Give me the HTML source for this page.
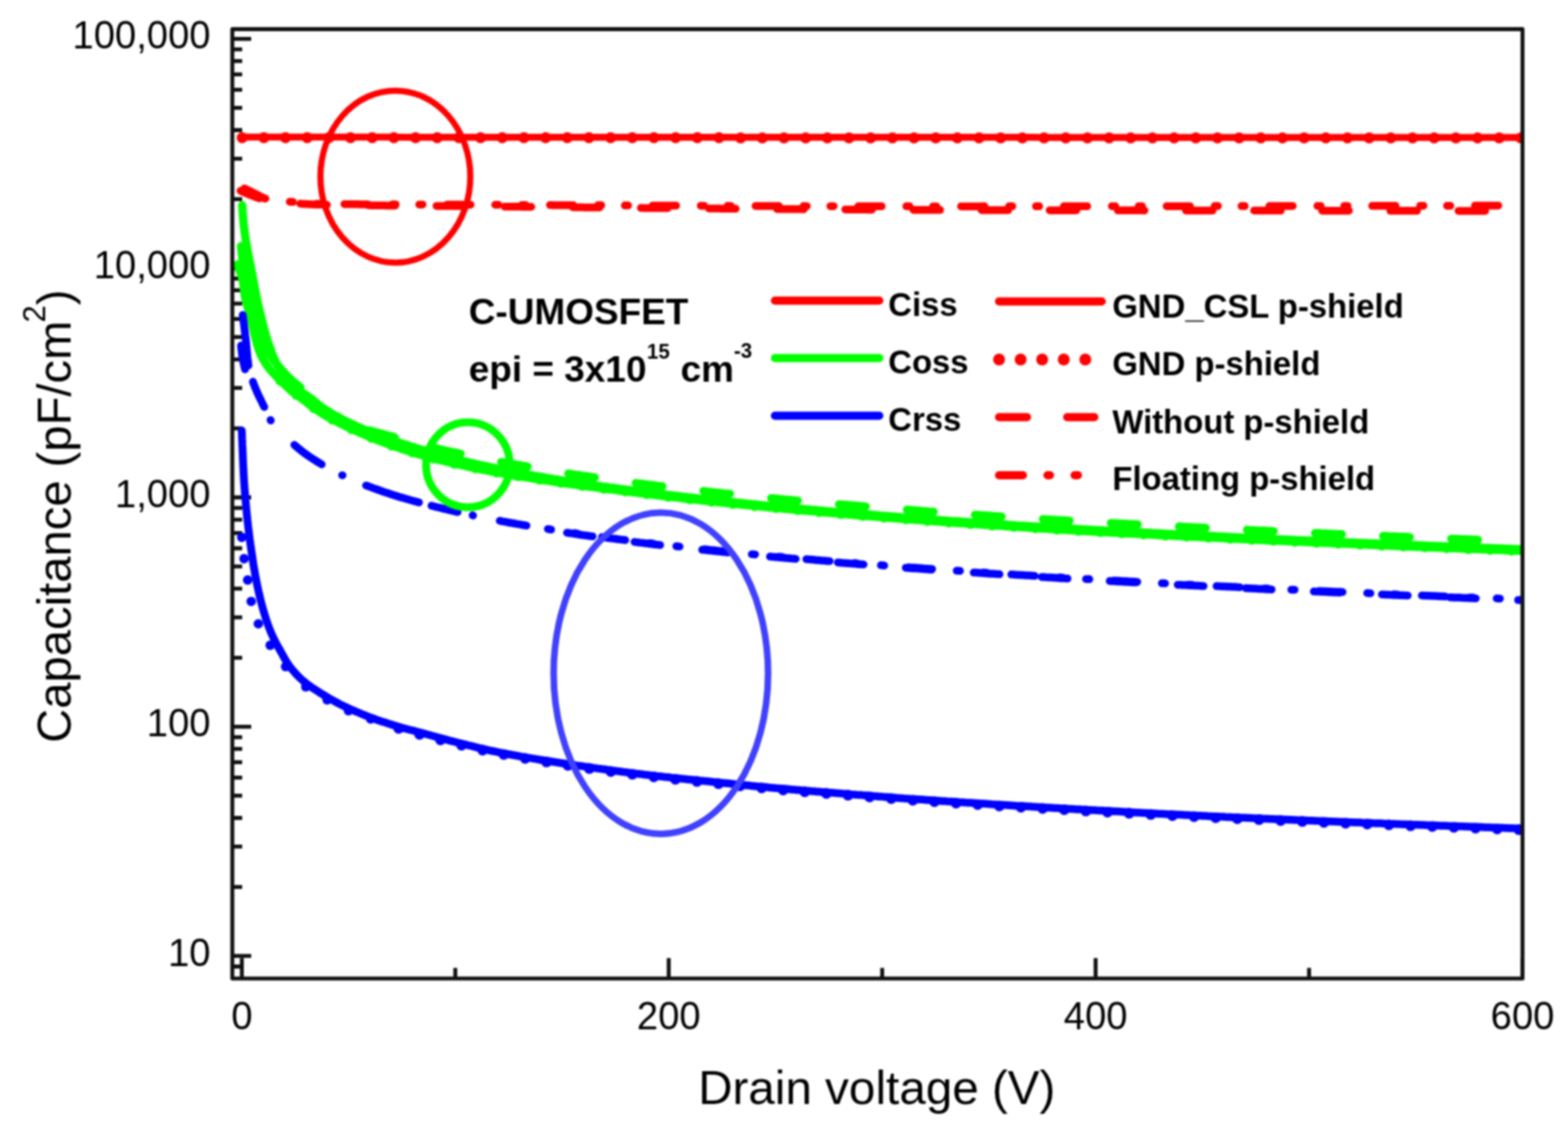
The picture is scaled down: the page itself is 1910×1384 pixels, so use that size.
<!DOCTYPE html>
<html><head><meta charset="utf-8"><title>Capacitance vs Drain voltage</title>
<style>
html,body{margin:0;padding:0;background:#fff;}
svg{display:block;}
text{font-family:"Liberation Sans",Arial,sans-serif;fill:#000;}
.tl{font-size:49px;}
.lg{font-size:40px;font-weight:bold;}
.an{font-size:45px;font-weight:bold;}
.ti{font-size:58px;}
</style></head>
<body>
<svg width="1910" height="1384" viewBox="0 0 1910 1384">
<defs><filter id="soft" color-interpolation-filters="sRGB" filterUnits="userSpaceOnUse" x="0" y="0" width="1910" height="1384"><feGaussianBlur stdDeviation="0.8"/></filter></defs>
<g filter="url(#soft)">
<rect width="1910" height="1384" fill="#fff"/>
<g id="axes">
<path d="M283,1177.5h12M283,1164.7h23M283,1080.6h12M283,1031.4h12M283,996.5h12M283,969.4h12M283,947.3h12M283,928.6h12M283,912.4h12M283,898.1h12M283,885.4h23M283,801.3h12M283,752.1h12M283,717.2h12M283,690.1h12M283,668h12M283,649.3h12M283,633.1h12M283,618.8h12M283,606h23M283,521.9h12M283,472.7h12M283,437.8h12M283,410.7h12M283,388.6h12M283,369.9h12M283,353.7h12M283,339.4h12M283,326.7h23M283,242.6h12M283,193.4h12M283,158.5h12M283,131.4h12M283,109.3h12M283,90.6h12M283,74.4h12M283,60.1h12M283,47.3h23M294.6,1192.2v-25M554.6,1192.2v-13M814.6,1192.2v-25M1074.6,1192.2v-13M1334.6,1192.2v-25M1594.6,1192.2v-13M1854.6,1192.2v-25" stroke="#111" stroke-width="4.8" fill="none"/>
</g>
<clipPath id="plotclip"><rect x="283" y="35.5" width="1571.6" height="1156.7"/></clipPath>
<g id="curves" clip-path="url(#plotclip)">
<path d="M294.6,167.1L314.6,167.1L334.6,167.1L354.6,167.1L374.6,167.1L394.6,167.1L414.6,167.1L434.6,167.1L454.6,167.1L474.6,167.1L494.6,167.2L514.6,167.2L534.6,167.2L554.6,167.2L574.6,167.2L594.6,167.2L614.6,167.2L634.6,167.2L654.6,167.2L674.6,167.2L694.6,167.2L714.6,167.2L734.6,167.2L754.6,167.2L774.6,167.2L794.6,167.2L814.6,167.2L834.6,167.2L854.6,167.2L874.6,167.2L894.6,167.3L914.6,167.3L934.6,167.3L954.6,167.3L974.6,167.3L994.6,167.3L1014.6,167.3L1034.6,167.3L1054.6,167.3L1074.6,167.3L1094.6,167.3L1114.6,167.3L1134.6,167.3L1154.6,167.3L1174.6,167.3L1194.6,167.3L1214.6,167.3L1234.6,167.3L1254.6,167.3L1274.6,167.4L1294.6,167.4L1314.6,167.4L1334.6,167.4L1354.6,167.4L1374.6,167.4L1394.6,167.4L1414.6,167.4L1434.6,167.4L1454.6,167.4L1474.6,167.4L1494.6,167.4L1514.6,167.4L1534.6,167.4L1554.6,167.4L1574.6,167.4L1594.6,167.4L1614.6,167.4L1634.6,167.4L1654.6,167.4L1674.6,167.5L1694.6,167.5L1714.6,167.5L1734.6,167.5L1754.6,167.5L1774.6,167.5L1794.6,167.5L1814.6,167.5L1834.6,167.5L1854.6,167.5" stroke="#ff0000" stroke-width="8.5" fill="none" stroke-linecap="round" stroke-linejoin="round"/>
<path d="M294.6,167.7L314.6,167.7L334.6,167.7L354.6,167.7L374.6,167.7L394.6,167.7L414.6,167.7L434.6,167.7L454.6,167.7L474.6,167.7L494.6,167.8L514.6,167.8L534.6,167.8L554.6,167.8L574.6,167.8L594.6,167.8L614.6,167.8L634.6,167.8L654.6,167.8L674.6,167.8L694.6,167.8L714.6,167.8L734.6,167.8L754.6,167.8L774.6,167.8L794.6,167.8L814.6,167.8L834.6,167.8L854.6,167.8L874.6,167.8L894.6,167.9L914.6,167.9L934.6,167.9L954.6,167.9L974.6,167.9L994.6,167.9L1014.6,167.9L1034.6,167.9L1054.6,167.9L1074.6,167.9L1094.6,167.9L1114.6,167.9L1134.6,167.9L1154.6,167.9L1174.6,167.9L1194.6,167.9L1214.6,167.9L1234.6,167.9L1254.6,167.9L1274.6,168L1294.6,168L1314.6,168L1334.6,168L1354.6,168L1374.6,168L1394.6,168L1414.6,168L1434.6,168L1454.6,168L1474.6,168L1494.6,168L1514.6,168L1534.6,168L1554.6,168L1574.6,168L1594.6,168L1614.6,168L1634.6,168L1654.6,168L1674.6,168.1L1694.6,168.1L1714.6,168.1L1734.6,168.1L1754.6,168.1L1774.6,168.1L1794.6,168.1L1814.6,168.1L1834.6,168.1L1854.6,168.1" stroke="#ff0000" stroke-width="13.5" fill="none" stroke-linecap="round" stroke-linejoin="round" stroke-dasharray="0 26.4" stroke-dashoffset="26"/>
<path d="M293,232.5L294.8,233.3L297.4,234.4L300.4,235.7L303.7,237.1L307,238.4L310,239.5L313.2,240.7L316.2,241.8L319.3,242.8L322.8,243.7L327,244.5L329.6,244.9L332.3,245.2L335.2,245.5L338.2,245.8L341.4,246L344.8,246.3L348.3,246.5L352.1,246.7L356,247L358.3,247.2L360.1,247.4L361.6,247.5L362.9,247.7L364.2,247.9L365.6,248.1L367.3,248.3L369.4,248.5L372.2,248.6L375.6,248.8L380,249L385.4,249.2L392,249.3L400,249.5L401.9,249.5L403.8,249.6L405.9,249.6L407.9,249.6L410.1,249.7L412.3,249.7L414.6,249.7L416.9,249.8L419.3,249.8L421.8,249.8L424.3,249.9L426.9,249.9L429.5,249.9L432.2,250L434.9,250L437.6,250L440.4,250.1L443.3,250.1L446.2,250.1L449.1,250.1L452.1,250.2L455.1,250.2L458.2,250.2L461.2,250.3L464.4,250.3L467.5,250.3L470.7,250.4L473.9,250.4L477.1,250.4L480.4,250.4L483.6,250.5L486.9,250.5L490.2,250.5L493.6,250.6L496.9,250.6L500.3,250.6L503.7,250.6L507.1,250.7L510.5,250.7L513.9,250.7L517.3,250.8L520.7,250.8L524.1,250.8L527.6,250.9L531,250.9L534.4,250.9L537.8,250.9L541.2,251L544.6,251L548,251L551.4,251.1L554.8,251.1L558.2,251.1L561.5,251.1L564.9,251.2L568.2,251.2L571.5,251.2L574.8,251.3L578,251.3L581.2,251.3L584.4,251.3L587.6,251.4L590.8,251.4L593.9,251.4L597,251.5L600,251.5L603,251.5L606.1,251.6L609.1,251.6L612.1,251.6L615.2,251.7L618.2,251.7L621.2,251.7L624.2,251.7L627.3,251.8L630.3,251.8L633.3,251.8L636.4,251.9L639.4,251.9L642.4,251.9L645.5,252L648.5,252L651.5,252L654.5,252.1L657.6,252.1L660.6,252.1L663.6,252.2L666.7,252.2L669.7,252.2L672.7,252.2L675.8,252.3L678.8,252.3L681.8,252.3L684.8,252.4L687.9,252.4L690.9,252.4L693.9,252.5L697,252.5L700,252.5L703,252.6L706.1,252.6L709.1,252.6L712.1,252.7L715.2,252.7L718.2,252.7L721.2,252.7L724.2,252.8L727.3,252.8L730.3,252.8L733.3,252.9L736.4,252.9L739.4,252.9L742.4,253L745.5,253L748.5,253L751.5,253L754.5,253.1L757.6,253.1L760.6,253.1L763.6,253.2L766.7,253.2L769.7,253.2L772.7,253.3L775.8,253.3L778.8,253.3L781.8,253.3L784.8,253.4L787.9,253.4L790.9,253.4L793.9,253.4L797,253.5L800,253.5L803,253.5L806.1,253.6L809.1,253.6L812.1,253.6L815.2,253.6L818.2,253.7L821.2,253.7L824.2,253.7L827.3,253.7L830.3,253.8L833.3,253.8L836.4,253.8L839.4,253.8L842.4,253.9L845.5,253.9L848.5,253.9L851.5,253.9L854.5,254L857.6,254L860.6,254L863.6,254L866.7,254.1L869.7,254.1L872.7,254.1L875.8,254.1L878.8,254.2L881.8,254.2L884.8,254.2L887.9,254.2L890.9,254.2L893.9,254.3L897,254.3L900,254.3L903,254.3L906.1,254.4L909.1,254.4L912.1,254.4L915.2,254.4L918.2,254.4L921.2,254.5L924.2,254.5L927.3,254.5L930.3,254.5L933.3,254.6L936.4,254.6L939.4,254.6L942.4,254.6L945.5,254.6L948.5,254.7L951.5,254.7L954.5,254.7L957.6,254.7L960.6,254.7L963.6,254.8L966.7,254.8L969.7,254.8L972.7,254.8L975.8,254.8L978.8,254.9L981.8,254.9L984.8,254.9L987.9,254.9L990.9,254.9L993.9,255L997,255L1000,255L1003,255L1006,255L1009,255.1L1011.9,255.1L1014.9,255.1L1017.8,255.1L1020.7,255.1L1023.6,255.1L1026.5,255.2L1029.3,255.2L1032.2,255.2L1035,255.2L1037.8,255.2L1040.7,255.3L1043.5,255.3L1046.3,255.3L1049.1,255.3L1051.8,255.3L1054.6,255.3L1057.4,255.4L1060.2,255.4L1063,255.4L1065.7,255.4L1068.5,255.4L1071.3,255.4L1074.1,255.5L1076.9,255.5L1079.7,255.5L1082.5,255.5L1085.3,255.5L1088.1,255.5L1090.9,255.5L1093.8,255.6L1096.6,255.6L1099.5,255.6L1102.3,255.6L1105.2,255.6L1108.1,255.6L1111,255.7L1114,255.7L1116.9,255.7L1119.9,255.7L1122.9,255.7L1125.9,255.7L1129,255.7L1132,255.7L1135.1,255.8L1138.2,255.8L1141.4,255.8L1144.6,255.8L1147.8,255.8L1151,255.8L1154.3,255.8L1157.6,255.9L1160.9,255.9L1164.2,255.9L1167.6,255.9L1171.1,255.9L1174.6,255.9L1178.1,255.9L1181.6,255.9L1185.2,256L1188.8,256L1192.5,256L1196.2,256L1200,256L1202.5,256L1205,256L1207.6,256L1210.1,256L1212.7,256L1215.3,256L1217.8,256.1L1220.5,256.1L1223.1,256.1L1225.7,256.1L1228.4,256.1L1231,256.1L1233.7,256.1L1236.4,256.1L1239.1,256.1L1241.8,256.1L1244.5,256.1L1247.2,256.1L1250,256.1L1252.7,256.1L1255.5,256.1L1258.3,256.1L1261.1,256.1L1263.9,256.2L1266.7,256.2L1269.5,256.2L1272.4,256.2L1275.2,256.2L1278.1,256.2L1280.9,256.2L1283.8,256.2L1286.7,256.2L1289.6,256.2L1292.5,256.2L1295.5,256.2L1298.4,256.2L1301.3,256.2L1304.3,256.2L1307.2,256.2L1310.2,256.2L1313.2,256.2L1316.2,256.2L1319.2,256.2L1322.2,256.3L1325.2,256.3L1328.2,256.3L1331.2,256.3L1334.3,256.3L1337.3,256.3L1340.4,256.3L1343.4,256.3L1346.5,256.3L1349.6,256.3L1352.7,256.3L1355.8,256.3L1358.9,256.3L1362,256.3L1365.1,256.3L1368.2,256.3L1371.3,256.3L1374.4,256.3L1377.6,256.3L1380.7,256.3L1383.9,256.3L1387,256.3L1390.2,256.3L1393.4,256.4L1396.5,256.4L1399.7,256.4L1402.9,256.4L1406.1,256.4L1409.3,256.4L1412.5,256.4L1415.7,256.4L1418.9,256.4L1422.1,256.4L1425.3,256.4L1428.5,256.4L1431.7,256.4L1434.9,256.4L1438.2,256.4L1441.4,256.4L1444.6,256.4L1447.9,256.4L1451.1,256.4L1454.4,256.4L1457.6,256.4L1460.9,256.4L1464.1,256.4L1467.4,256.5L1470.6,256.5L1473.9,256.5L1477.1,256.5L1480.4,256.5L1483.7,256.5L1486.9,256.5L1490.2,256.5L1493.5,256.5L1496.7,256.5L1500,256.5L1502.8,256.5L1505.6,256.5L1508.5,256.5L1511.3,256.5L1514.3,256.5L1517.2,256.5L1520.2,256.5L1523.2,256.5L1526.2,256.5L1529.2,256.5L1532.3,256.5L1535.4,256.6L1538.6,256.6L1541.7,256.6L1544.9,256.6L1548.1,256.6L1551.3,256.6L1554.5,256.6L1557.8,256.6L1561.1,256.6L1564.4,256.6L1567.7,256.6L1571,256.6L1574.3,256.6L1577.7,256.6L1581.1,256.6L1584.5,256.6L1587.9,256.6L1591.3,256.6L1594.7,256.6L1598.2,256.6L1601.6,256.6L1605.1,256.7L1608.5,256.7L1612,256.7L1615.5,256.7L1619,256.7L1622.4,256.7L1625.9,256.7L1629.4,256.7L1632.9,256.7L1636.5,256.7L1640,256.7L1643.5,256.7L1647,256.7L1650.5,256.7L1654,256.7L1657.5,256.7L1661,256.7L1664.5,256.7L1668,256.7L1671.5,256.7L1675,256.8L1678.5,256.8L1681.9,256.8L1685.4,256.8L1688.9,256.8L1692.3,256.8L1695.8,256.8L1699.2,256.8L1702.6,256.8L1706,256.8L1709.4,256.8L1712.8,256.8L1716.1,256.8L1719.5,256.8L1722.8,256.8L1726.1,256.8L1729.4,256.8L1732.7,256.8L1735.9,256.8L1739.2,256.8L1742.4,256.8L1745.6,256.9L1748.8,256.9L1751.9,256.9L1755.1,256.9L1758.2,256.9L1761.2,256.9L1764.3,256.9L1767.3,256.9L1770.3,256.9L1773.3,256.9L1776.2,256.9L1779.2,256.9L1782,256.9L1784.9,256.9L1787.7,256.9L1790.5,256.9L1793.3,256.9L1796,256.9L1798.7,256.9L1801.3,256.9L1804,256.9L1806.5,256.9L1809.1,256.9L1811.6,256.9L1814,256.9L1816.5,256.9L1818.9,257L1821.2,257L1823.5,257L1825.8,257L1828,257L1830.1,257L1832.3,257L1834.4,257L1836.4,257L1838.4,257L1840.3,257L1842.2,257L1844,257L1845.8,257L1847.6,257L1849.3,257L1850.9,257L1852.5,257L1854,257" stroke="#ff0000" stroke-width="9.5" fill="none" stroke-linecap="round" stroke-linejoin="round" stroke-dasharray="32.5 50.5" stroke-dashoffset="7.9"/>
<path d="M293.5,227.5L295.3,228.4L297.8,229.6L300.7,231L303.9,232.6L307,234.1L310,235.5L312.7,236.8L315.2,238.2L317.7,239.6L320.4,240.9L323.5,242L327,243L329.6,243.5L332.3,244L335.2,244.4L338.2,244.7L341.4,244.9L344.8,245.2L348.3,245.5L352.1,245.7L356,246L358.3,246.2L360.1,246.4L361.6,246.6L362.9,246.8L364.2,247L365.6,247.2L367.3,247.4L369.4,247.6L372.2,247.7L375.6,247.9L380,248.1L385.4,248.2L392,248.4L400,248.5L401.9,248.5L403.7,248.6L405.7,248.6L407.6,248.6L409.6,248.6L411.6,248.6L413.6,248.7L415.6,248.7L417.7,248.7L419.8,248.7L422,248.7L424.2,248.8L426.4,248.8L428.6,248.8L430.9,248.8L433.2,248.8L435.5,248.8L437.9,248.9L440.3,248.9L442.7,248.9L445.2,248.9L447.7,248.9L450.2,248.9L452.8,248.9L455.4,249L458.1,249L460.8,249L463.5,249L466.3,249L469.1,249L471.9,249L474.8,249L477.8,249.1L480.7,249.1L483.7,249.1L486.8,249.1L489.9,249.1L493,249.1L496.2,249.1L499.4,249.1L502.7,249.1L506,249.1L509.3,249.2L512.7,249.2L516.2,249.2L519.7,249.2L523.2,249.2L526.8,249.2L530.4,249.2L534.1,249.2L537.9,249.3L541.6,249.3L545.5,249.3L549.4,249.3L553.3,249.3L557.3,249.3L561.3,249.3L565.4,249.4L569.5,249.4L573.7,249.4L578,249.4L582.3,249.4L586.6,249.4L591,249.5L595.5,249.5L600,249.5L602.3,249.5L604.6,249.5L606.9,249.5L609.2,249.5L611.6,249.6L613.9,249.6L616.3,249.6L618.7,249.6L621.2,249.6L623.6,249.6L626.1,249.6L628.6,249.6L631.1,249.6L633.7,249.7L636.2,249.7L638.8,249.7L641.4,249.7L644,249.7L646.6,249.7L649.3,249.7L652,249.7L654.6,249.8L657.3,249.8L660.1,249.8L662.8,249.8L665.5,249.8L668.3,249.8L671.1,249.8L673.9,249.9L676.7,249.9L679.5,249.9L682.4,249.9L685.2,249.9L688.1,249.9L691,249.9L693.9,250L696.8,250L699.7,250L702.6,250L705.6,250L708.6,250L711.5,250L714.5,250.1L717.5,250.1L720.5,250.1L723.5,250.1L726.6,250.1L729.6,250.1L732.7,250.1L735.7,250.2L738.8,250.2L741.9,250.2L745,250.2L748.1,250.2L751.2,250.2L754.3,250.3L757.4,250.3L760.6,250.3L763.7,250.3L766.9,250.3L770,250.3L773.2,250.3L776.4,250.4L779.5,250.4L782.7,250.4L785.9,250.4L789.1,250.4L792.3,250.4L795.5,250.4L798.7,250.5L801.9,250.5L805.2,250.5L808.4,250.5L811.6,250.5L814.8,250.5L818.1,250.6L821.3,250.6L824.6,250.6L827.8,250.6L831,250.6L834.3,250.6L837.6,250.6L840.8,250.7L844.1,250.7L847.3,250.7L850.6,250.7L853.8,250.7L857.1,250.7L860.3,250.7L863.6,250.8L866.9,250.8L870.1,250.8L873.4,250.8L876.6,250.8L879.9,250.8L883.1,250.8L886.4,250.8L889.6,250.9L892.9,250.9L896.1,250.9L899.4,250.9L902.6,250.9L905.8,250.9L909.1,250.9L912.3,250.9L915.5,251L918.7,251L921.9,251L925.2,251L928.4,251L931.6,251L934.7,251L937.9,251L941.1,251L944.3,251.1L947.4,251.1L950.6,251.1L953.8,251.1L956.9,251.1L960,251.1L963.2,251.1L966.3,251.1L969.4,251.1L972.5,251.1L975.6,251.1L978.7,251.1L981.8,251.2L984.8,251.2L987.9,251.2L990.9,251.2L994,251.2L997,251.2L1000,251.2L1003,251.2L1006,251.2L1009,251.2L1012,251.2L1015,251.2L1018,251.2L1021,251.2L1024,251.2L1027,251.3L1029.9,251.3L1032.9,251.3L1035.9,251.3L1038.9,251.3L1041.8,251.3L1044.8,251.3L1047.8,251.3L1050.7,251.3L1053.7,251.3L1056.7,251.3L1059.6,251.3L1062.6,251.3L1065.5,251.3L1068.5,251.3L1071.5,251.3L1074.4,251.3L1077.4,251.3L1080.3,251.3L1083.3,251.3L1086.2,251.3L1089.2,251.3L1092.1,251.3L1095.1,251.3L1098,251.3L1100.9,251.3L1103.9,251.3L1106.8,251.3L1109.8,251.3L1112.7,251.3L1115.7,251.3L1118.6,251.3L1121.5,251.3L1124.5,251.3L1127.4,251.4L1130.4,251.4L1133.3,251.4L1136.2,251.4L1139.2,251.4L1142.1,251.4L1145.1,251.4L1148,251.4L1150.9,251.4L1153.9,251.4L1156.8,251.4L1159.8,251.4L1162.7,251.4L1165.6,251.4L1168.6,251.4L1171.5,251.4L1174.5,251.4L1177.4,251.4L1180.4,251.4L1183.3,251.4L1186.3,251.4L1189.2,251.4L1192.2,251.4L1195.1,251.4L1198.1,251.3L1201.1,251.3L1204,251.3L1207,251.3L1209.9,251.3L1212.9,251.3L1215.9,251.3L1218.8,251.3L1221.8,251.3L1224.8,251.3L1227.8,251.3L1230.7,251.3L1233.7,251.3L1236.7,251.3L1239.7,251.3L1242.7,251.3L1245.7,251.3L1248.7,251.3L1251.7,251.3L1254.7,251.3L1257.7,251.3L1260.7,251.3L1263.7,251.3L1266.7,251.3L1269.7,251.3L1272.7,251.3L1275.7,251.3L1278.8,251.3L1281.8,251.3L1284.8,251.3L1287.8,251.3L1290.9,251.3L1293.9,251.3L1297,251.3L1300,251.3L1303.1,251.3L1306.1,251.3L1309.2,251.3L1312.2,251.3L1315.3,251.3L1318.4,251.3L1321.5,251.3L1324.5,251.3L1327.6,251.3L1330.7,251.3L1333.8,251.3L1336.9,251.3L1340,251.3L1343.1,251.2L1346.2,251.2L1349.4,251.2L1352.5,251.2L1355.6,251.2L1358.8,251.2L1361.9,251.2L1365,251.2L1368.2,251.2L1371.3,251.2L1374.5,251.2L1377.7,251.2L1380.8,251.2L1384,251.2L1387.2,251.2L1390.4,251.2L1393.6,251.2L1396.8,251.2L1400,251.2L1402.8,251.2L1405.7,251.2L1408.6,251.2L1411.5,251.2L1414.4,251.2L1417.4,251.2L1420.4,251.2L1423.4,251.2L1426.4,251.2L1429.4,251.2L1432.5,251.2L1435.6,251.2L1438.7,251.2L1441.8,251.2L1444.9,251.2L1448.1,251.2L1451.3,251.1L1454.5,251.1L1457.7,251.1L1460.9,251.1L1464.1,251.1L1467.4,251.1L1470.7,251.1L1473.9,251.1L1477.2,251.1L1480.6,251.1L1483.9,251.1L1487.2,251.1L1490.6,251.1L1493.9,251.1L1497.3,251.1L1500.7,251.1L1504.1,251.1L1507.5,251.1L1510.9,251.1L1514.3,251.1L1517.8,251.1L1521.2,251.1L1524.7,251.1L1528.1,251L1531.6,251L1535,251L1538.5,251L1542,251L1545.5,251L1549,251L1552.5,251L1556,251L1559.5,251L1563,251L1566.5,251L1570,251L1573.5,251L1577,251L1580.5,251L1584,251L1587.6,251L1591.1,251L1594.6,250.9L1598.1,250.9L1601.6,250.9L1605.1,250.9L1608.6,250.9L1612.1,250.9L1615.6,250.9L1619.1,250.9L1622.6,250.9L1626.1,250.9L1629.6,250.9L1633,250.9L1636.5,250.9L1640,250.9L1643.4,250.9L1646.8,250.9L1650.3,250.9L1653.7,250.8L1657.1,250.8L1660.5,250.8L1663.9,250.8L1667.3,250.8L1670.7,250.8L1674.1,250.8L1677.4,250.8L1680.8,250.8L1684.1,250.8L1687.4,250.8L1690.7,250.8L1694,250.8L1697.3,250.8L1700.5,250.8L1703.8,250.8L1707,250.8L1710.2,250.7L1713.4,250.7L1716.6,250.7L1719.8,250.7L1722.9,250.7L1726.1,250.7L1729.2,250.7L1732.2,250.7L1735.3,250.7L1738.4,250.7L1741.4,250.7L1744.4,250.7L1747.4,250.7L1750.4,250.7L1753.3,250.7L1756.2,250.7L1759.1,250.7L1762,250.7L1764.8,250.7L1767.7,250.6L1770.5,250.6L1773.2,250.6L1776,250.6L1778.7,250.6L1781.4,250.6L1784.1,250.6L1786.7,250.6L1789.3,250.6L1791.9,250.6L1794.5,250.6L1797,250.6L1799.5,250.6L1801.9,250.6L1804.4,250.6L1806.8,250.6L1809.2,250.6L1811.5,250.6L1813.8,250.6L1816.1,250.6L1818.3,250.6L1820.5,250.6L1822.7,250.6L1824.8,250.5L1827,250.5L1829,250.5L1831.1,250.5L1833,250.5L1835,250.5L1836.9,250.5L1838.8,250.5L1840.7,250.5L1842.5,250.5L1844.2,250.5L1846,250.5L1847.7,250.5L1849.3,250.5L1850.9,250.5L1852.5,250.5L1854,250.5" stroke="#ff0000" stroke-width="9.5" fill="none" stroke-linecap="round" stroke-linejoin="round" stroke-dasharray="28.5 30 4 28.7 4 30" stroke-dashoffset="120.6"/>
<path d="M289.5,322L290.3,325L291.5,329L293,332.8L294.5,337L295.3,340.2L295.9,343.6L296.5,347L296.8,350.2L297.1,353.4L297.5,357L298.1,360.1L298.8,363.4L299.7,366.8L300.5,370L301.3,373.1L302.2,376L303.1,379L304,382L304.8,385L305.7,388.1L306.5,391.2L307.3,394.5L308.1,398L308.9,401.6L309.6,405.3L310.5,409L311.2,412L312,415.1L312.8,418.1L313.6,421.1L314.5,424L315.7,427.4L317,430.7L318.4,433.9L320,437L321.8,440.1L323.8,443.2L325.9,446.2L328,449L330.2,451.7L332.4,454.2L334.7,456.6L337,459L339.2,461.3L341.4,463.6L343.7,465.8L346,468L348.4,470.2L350.8,472.5L353.3,474.8L356,477L358.2,478.7L360.4,480.4L362.7,482.1L365.2,483.9L368,486L370.2,487.7L372.6,489.5L375,491.5L377.6,493.5L380.1,495.4L382.6,497.3L385,499L387.9,501L390.4,502.7L393,504.3L396.1,506.1L400,508.3L402.1,509.4L404.4,510.7L406.8,512L409.4,513.3L412.1,514.7L414.8,516.1L417.7,517.6L420.7,519L423.7,520.5L426.8,522L430,523.4L432.5,524.6L435.1,525.7L437.7,526.9L440.4,528.1L443.1,529.3L445.9,530.5L448.8,531.7L451.6,532.9L454.6,534.1L457.6,535.3L460.6,536.5L463.7,537.7L466.8,538.9L470,540.1L472.7,541L475.4,542L478.1,543L480.9,544L483.7,544.9L486.5,545.9L489.4,546.9L492.3,547.9L495.2,548.8L498.2,549.8L501.2,550.7L504.3,551.7L507.3,552.6L510.4,553.6L513.6,554.5L516.8,555.4L520,556.3L522.8,557.1L525.6,557.8L528.4,558.6L531.2,559.3L534.1,560.1L536.9,560.8L539.9,561.5L542.8,562.3L545.8,563L548.8,563.7L551.8,564.4L554.8,565.1L557.9,565.8L560.9,566.5L564.1,567.2L567.2,567.9L570.4,568.6L573.5,569.3L576.8,570L580,570.6L582.8,571.2L585.6,571.8L588.4,572.3L591.2,572.9L594,573.4L596.8,574L599.6,574.5L602.4,575L605.3,575.6L608.1,576.1L611,576.6L614,577.1L616.9,577.7L620,578.2L623,578.7L626.2,579.2L629.3,579.8L632.6,580.3L635.9,580.8L639.3,581.4L642.8,581.9L646.4,582.5L650,583.1L652.6,583.5L655.2,583.9L657.8,584.3L660.4,584.7L663,585.1L665.7,585.5L668.4,585.9L671,586.3L673.8,586.7L676.5,587.1L679.3,587.5L682.1,587.9L684.9,588.3L687.7,588.7L690.6,589.2L693.5,589.6L696.5,590L699.5,590.4L702.5,590.8L705.6,591.3L708.7,591.7L711.9,592.1L715.1,592.6L718.3,593L721.6,593.4L725,593.9L728.4,594.3L731.8,594.8L735.3,595.3L738.9,595.7L742.6,596.2L746.2,596.6L750,597.1L752.5,597.4L755,597.8L757.6,598.1L760.2,598.4L762.8,598.7L765.4,599L768,599.4L770.6,599.7L773.3,600L776,600.4L778.7,600.7L781.4,601L784.2,601.4L787,601.7L789.7,602.1L792.6,602.4L795.4,602.8L798.2,603.1L801.1,603.5L804,603.8L806.9,604.2L809.8,604.5L812.8,604.9L815.8,605.2L818.8,605.6L821.8,605.9L824.8,606.3L827.8,606.6L830.9,607L834,607.4L837.1,607.7L840.2,608.1L843.4,608.4L846.6,608.8L849.7,609.1L853,609.5L856.2,609.9L859.4,610.2L862.7,610.6L866,610.9L869.3,611.3L872.6,611.6L876,612L879.4,612.4L882.8,612.7L886.2,613.1L889.6,613.4L893,613.8L896.5,614.1L900,614.5L902.7,614.7L905.3,615L908.1,615.3L910.8,615.6L913.5,615.8L916.3,616.1L919.1,616.4L921.9,616.6L924.7,616.9L927.6,617.2L930.4,617.5L933.3,617.7L936.2,618L939.1,618.3L942.1,618.6L945,618.8L948,619.1L950.9,619.4L953.9,619.7L956.9,620L959.9,620.2L963,620.5L966,620.8L969,621.1L972.1,621.4L975.2,621.6L978.2,621.9L981.3,622.2L984.4,622.5L987.5,622.7L990.6,623L993.8,623.3L996.9,623.6L1000,623.9L1003.1,624.1L1006.3,624.4L1009.4,624.7L1012.6,625L1015.7,625.2L1018.9,625.5L1022,625.8L1025.2,626.1L1028.3,626.3L1031.5,626.6L1034.6,626.9L1037.8,627.1L1040.9,627.4L1044.1,627.7L1047.3,627.9L1050.4,628.2L1053.5,628.5L1056.7,628.7L1059.8,629L1063,629.2L1066.1,629.5L1069.2,629.7L1072.3,630L1075.4,630.3L1078.5,630.5L1081.6,630.8L1084.7,631L1087.8,631.2L1090.9,631.5L1093.9,631.7L1097,632L1100,632.2L1103,632.4L1106.1,632.7L1109.1,632.9L1112.1,633.1L1115.2,633.4L1118.2,633.6L1121.2,633.8L1124.2,634.1L1127.3,634.3L1130.3,634.5L1133.3,634.7L1136.4,635L1139.4,635.2L1142.4,635.4L1145.5,635.6L1148.5,635.9L1151.5,636.1L1154.5,636.3L1157.6,636.5L1160.6,636.7L1163.6,636.9L1166.7,637.2L1169.7,637.4L1172.7,637.6L1175.8,637.8L1178.8,638L1181.8,638.2L1184.8,638.4L1187.9,638.6L1190.9,638.8L1193.9,639L1197,639.2L1200,639.4L1203,639.6L1206.1,639.8L1209.1,640L1212.1,640.2L1215.2,640.4L1218.2,640.6L1221.2,640.8L1224.2,641L1227.3,641.2L1230.3,641.4L1233.3,641.6L1236.4,641.8L1239.4,642L1242.4,642.2L1245.5,642.4L1248.5,642.6L1251.5,642.8L1254.5,643L1257.6,643.2L1260.6,643.4L1263.6,643.5L1266.7,643.7L1269.7,643.9L1272.7,644.1L1275.8,644.3L1278.8,644.5L1281.8,644.7L1284.8,644.8L1287.9,645L1290.9,645.2L1293.9,645.4L1297,645.6L1300,645.8L1303,645.9L1306.1,646.1L1309.1,646.3L1312.1,646.5L1315.2,646.7L1318.2,646.8L1321.2,647L1324.2,647.2L1327.3,647.4L1330.3,647.5L1333.3,647.7L1336.4,647.9L1339.4,648L1342.4,648.2L1345.5,648.4L1348.5,648.5L1351.5,648.7L1354.5,648.9L1357.6,649L1360.6,649.2L1363.6,649.4L1366.7,649.5L1369.7,649.7L1372.7,649.9L1375.8,650L1378.8,650.2L1381.8,650.3L1384.8,650.5L1387.9,650.6L1390.9,650.8L1393.9,651L1397,651.1L1400,651.3L1403,651.4L1406.1,651.6L1409.1,651.7L1412.1,651.9L1415.2,652L1418.2,652.2L1421.2,652.3L1424.2,652.5L1427.3,652.7L1430.3,652.8L1433.3,653L1436.4,653.1L1439.4,653.3L1442.4,653.4L1445.5,653.6L1448.5,653.7L1451.5,653.9L1454.5,654L1457.6,654.1L1460.6,654.3L1463.6,654.4L1466.7,654.6L1469.7,654.7L1472.7,654.9L1475.8,655L1478.8,655.2L1481.8,655.3L1484.8,655.5L1487.9,655.6L1490.9,655.8L1493.9,655.9L1497,656.1L1500,656.2L1503,656.4L1506.1,656.5L1509.1,656.6L1512.2,656.8L1515.3,656.9L1518.4,657.1L1521.4,657.2L1524.5,657.4L1527.6,657.5L1530.8,657.7L1533.9,657.8L1537,658L1540.1,658.1L1543.2,658.3L1546.4,658.4L1549.5,658.5L1552.6,658.7L1555.8,658.8L1558.9,659L1562.1,659.1L1565.2,659.3L1568.4,659.4L1571.5,659.6L1574.7,659.7L1577.8,659.8L1581,660L1584.1,660.1L1587.2,660.3L1590.4,660.4L1593.5,660.5L1596.6,660.7L1599.8,660.8L1602.9,661L1606,661.1L1609.1,661.2L1612.2,661.4L1615.3,661.5L1618.4,661.6L1621.5,661.8L1624.5,661.9L1627.6,662L1630.7,662.2L1633.7,662.3L1636.7,662.4L1639.8,662.6L1642.8,662.7L1645.8,662.8L1648.8,663L1651.8,663.1L1654.7,663.2L1657.7,663.4L1660.6,663.5L1663.5,663.6L1666.4,663.7L1669.3,663.9L1672.2,664L1675.1,664.1L1677.9,664.2L1680.7,664.3L1683.5,664.5L1686.3,664.6L1689.1,664.7L1691.9,664.8L1694.6,664.9L1697.3,665L1700,665.2L1703.5,665.3L1707,665.4L1710.5,665.6L1714,665.7L1717.6,665.9L1721.2,666L1724.7,666.2L1728.3,666.3L1731.9,666.5L1735.5,666.6L1739.1,666.8L1742.7,666.9L1746.2,667L1749.8,667.2L1753.4,667.3L1756.9,667.5L1760.4,667.6L1764,667.7L1767.5,667.9L1770.9,668L1774.4,668.1L1777.8,668.3L1781.2,668.4L1784.5,668.5L1787.9,668.7L1791.1,668.8L1794.4,668.9L1797.6,669L1800.7,669.1L1803.9,669.3L1806.9,669.4L1809.9,669.5L1812.9,669.6L1815.8,669.7L1818.6,669.8L1821.4,669.9L1824.1,670L1826.8,670.1L1829.3,670.2L1831.8,670.3L1834.3,670.4L1836.6,670.5L1838.9,670.6L1841.1,670.7L1843.2,670.7L1845.2,670.8L1847.2,670.9L1849,671L1850.8,671L1852.4,671.1L1854,671.2" stroke="#00ff00" stroke-width="10" fill="none" stroke-linecap="round" stroke-linejoin="round"/>
<path d="M293.5,300L293.8,302.2L294.1,305.2L294.5,308.8L295,312.6L295.5,316.4L296,320L296.5,323.4L297.1,326.7L297.7,330.1L298.3,333.5L298.9,336.8L299.5,340L300,343.1L300.5,346.1L301,349.1L301.4,352.1L301.9,355L302.5,358L303.1,361L303.7,364.1L304.4,367.1L305.1,370.1L305.8,373.1L306.5,376L307.4,379.3L308.2,382.6L309.1,385.8L310.1,388.9L311,392L312,395.1L312.9,398.1L313.9,401.1L314.9,404.1L316,407L317.1,409.9L318.2,412.7L319.4,415.5L320.7,418.3L322,421L323.4,423.7L325,426.3L326.6,428.8L328.2,431.4L330,434L331.8,436.6L333.8,439.2L335.8,441.8L337.8,444.4L340,447L342.2,449.6L344.6,452.2L347,454.9L349.4,457.5L352,460L354.4,462.2L357,464.5L359.8,466.8L362.3,468.9L364.5,470.7L366,472" stroke="#00ff00" stroke-width="10" fill="none" stroke-linecap="round" stroke-linejoin="round"/>
<path d="M330,451.4L330.2,451.7L332.4,454.2L334.7,456.6L337,459L339.2,461.3L341.4,463.6L343.7,465.8L346,468L348.4,470.2L350.8,472.5L353.3,474.8L356,477L358.2,478.7L360.4,480.4L362.7,482.1L365.2,483.9L368,486L370.2,487.7L372.6,489.5L375,491.5L377.6,493.5L380.1,495.4L382.6,497.3L385,499L387.9,501L390.4,502.7L393,504.3L396.1,506.1L400,508.3L402.1,509.4L404.4,510.7L406.8,512L409.4,513.3L412.1,514.7L414.8,516.1L417.7,517.6L420.7,519L423.7,520.5L426.8,522L430,523.4L432.5,524.6L435.1,525.7L437.7,526.9L440.4,528.1L443.1,529.3L445.9,530.5L448.8,531.7L451.6,532.9L454.6,534.1L457.6,535.3L460.6,536.5L463.7,537.7L466.8,538.9L470,540.1L472.7,541L475.4,542L478.1,543L480.9,544L483.7,544.9L486.5,545.9L489.4,546.9L492.3,547.9L495.2,548.8L498.2,549.8L501.2,550.7L504.3,551.7L507.3,552.6L510.4,553.6L513.6,554.5L516.8,555.4L520,556.3L522.8,557.1L525.6,557.8L528.4,558.6L531.2,559.3L534.1,560.1L536.9,560.8L539.9,561.5L542.8,562.3L545.8,563L548.8,563.7L551.8,564.4L554.8,565.1L557.9,565.8L560.9,566.5L564.1,567.2L567.2,567.9L570.4,568.6L573.5,569.3L576.8,570L580,570.6L582.8,571.2L585.6,571.8L588.4,572.3L591.2,572.9L594,573.4L596.8,574L599.6,574.5L602.4,575L605.3,575.6L608.1,576.1L611,576.6L614,577.1L616.9,577.7L620,578.2L623,578.7L626.2,579.2L629.3,579.8L632.6,580.3L635.9,580.8L639.3,581.4L642.8,581.9L646.4,582.5L650,583.1L652.6,583.5L655.2,583.9L657.8,584.3L660.4,584.7L663,585.1L665.7,585.5L668.4,585.9L671,586.3L673.8,586.7L676.5,587.1L679.3,587.5L682.1,587.9L684.9,588.3L687.7,588.7L690.6,589.2L693.5,589.6L696.5,590L699.5,590.4L702.5,590.8L705.6,591.3L708.7,591.7L711.9,592.1L715.1,592.6L718.3,593L721.6,593.4L725,593.9L728.4,594.3L731.8,594.8L735.3,595.3L738.9,595.7L742.6,596.2L746.2,596.6L750,597.1L752.5,597.4L755,597.8L757.6,598.1L760.2,598.4L762.8,598.7L765.4,599L768,599.4L770.6,599.7L773.3,600L776,600.4L778.7,600.7L781.4,601L784.2,601.4L787,601.7L789.7,602.1L792.6,602.4L795.4,602.8L798.2,603.1L801.1,603.5L804,603.8L806.9,604.2L809.8,604.5L812.8,604.9L815.8,605.2L818.8,605.6L821.8,605.9L824.8,606.3L827.8,606.6L830.9,607L834,607.4L837.1,607.7L840.2,608.1L843.4,608.4L846.6,608.8L849.7,609.1L853,609.5L856.2,609.9L859.4,610.2L862.7,610.6L866,610.9L869.3,611.3L872.6,611.6L876,612L879.4,612.4L882.8,612.7L886.2,613.1L889.6,613.4L893,613.8L896.5,614.1L900,614.5L902.7,614.7L905.3,615L908.1,615.3L910.8,615.6L913.5,615.8L916.3,616.1L919.1,616.4L921.9,616.6L924.7,616.9L927.6,617.2L930.4,617.5L933.3,617.7L936.2,618L939.1,618.3L942.1,618.6L945,618.8L948,619.1L950.9,619.4L953.9,619.7L956.9,620L959.9,620.2L963,620.5L966,620.8L969,621.1L972.1,621.4L975.2,621.6L978.2,621.9L981.3,622.2L984.4,622.5L987.5,622.7L990.6,623L993.8,623.3L996.9,623.6L1000,623.9L1003.1,624.1L1006.3,624.4L1009.4,624.7L1012.6,625L1015.7,625.2L1018.9,625.5L1022,625.8L1025.2,626.1L1028.3,626.3L1031.5,626.6L1034.6,626.9L1037.8,627.1L1040.9,627.4L1044.1,627.7L1047.3,627.9L1050.4,628.2L1053.5,628.5L1056.7,628.7L1059.8,629L1063,629.2L1066.1,629.5L1069.2,629.7L1072.3,630L1075.4,630.3L1078.5,630.5L1081.6,630.8L1084.7,631L1087.8,631.2L1090.9,631.5L1093.9,631.7L1097,632L1100,632.2L1103,632.4L1106.1,632.7L1109.1,632.9L1112.1,633.1L1115.2,633.4L1118.2,633.6L1121.2,633.8L1124.2,634.1L1127.3,634.3L1130.3,634.5L1133.3,634.7L1136.4,635L1139.4,635.2L1142.4,635.4L1145.5,635.6L1148.5,635.9L1151.5,636.1L1154.5,636.3L1157.6,636.5L1160.6,636.7L1163.6,636.9L1166.7,637.2L1169.7,637.4L1172.7,637.6L1175.8,637.8L1178.8,638L1181.8,638.2L1184.8,638.4L1187.9,638.6L1190.9,638.8L1193.9,639L1197,639.2L1200,639.4L1203,639.6L1206.1,639.8L1209.1,640L1212.1,640.2L1215.2,640.4L1218.2,640.6L1221.2,640.8L1224.2,641L1227.3,641.2L1230.3,641.4L1233.3,641.6L1236.4,641.8L1239.4,642L1242.4,642.2L1245.5,642.4L1248.5,642.6L1251.5,642.8L1254.5,643L1257.6,643.2L1260.6,643.4L1263.6,643.5L1266.7,643.7L1269.7,643.9L1272.7,644.1L1275.8,644.3L1278.8,644.5L1281.8,644.7L1284.8,644.8L1287.9,645L1290.9,645.2L1293.9,645.4L1297,645.6L1300,645.8L1303,645.9L1306.1,646.1L1309.1,646.3L1312.1,646.5L1315.2,646.7L1318.2,646.8L1321.2,647L1324.2,647.2L1327.3,647.4L1330.3,647.5L1333.3,647.7L1336.4,647.9L1339.4,648L1342.4,648.2L1345.5,648.4L1348.5,648.5L1351.5,648.7L1354.5,648.9L1357.6,649L1360.6,649.2L1363.6,649.4L1366.7,649.5L1369.7,649.7L1372.7,649.9L1375.8,650L1378.8,650.2L1381.8,650.3L1384.8,650.5L1387.9,650.6L1390.9,650.8L1393.9,651L1397,651.1L1400,651.3L1403,651.4L1406.1,651.6L1409.1,651.7L1412.1,651.9L1415.2,652L1418.2,652.2L1421.2,652.3L1424.2,652.5L1427.3,652.7L1430.3,652.8L1433.3,653L1436.4,653.1L1439.4,653.3L1442.4,653.4L1445.5,653.6L1448.5,653.7L1451.5,653.9L1454.5,654L1457.6,654.1L1460.6,654.3L1463.6,654.4L1466.7,654.6L1469.7,654.7L1472.7,654.9L1475.8,655L1478.8,655.2L1481.8,655.3L1484.8,655.5L1487.9,655.6L1490.9,655.8L1493.9,655.9L1497,656.1L1500,656.2L1503,656.4L1506.1,656.5L1509.1,656.6L1512.2,656.8L1515.3,656.9L1518.4,657.1L1521.4,657.2L1524.5,657.4L1527.6,657.5L1530.8,657.7L1533.9,657.8L1537,658L1540.1,658.1L1543.2,658.3L1546.4,658.4L1549.5,658.5L1552.6,658.7L1555.8,658.8L1558.9,659L1562.1,659.1L1565.2,659.3L1568.4,659.4L1571.5,659.6L1574.7,659.7L1577.8,659.8L1581,660L1584.1,660.1L1587.2,660.3L1590.4,660.4L1593.5,660.5L1596.6,660.7L1599.8,660.8L1602.9,661L1606,661.1L1609.1,661.2L1612.2,661.4L1615.3,661.5L1618.4,661.6L1621.5,661.8L1624.5,661.9L1627.6,662L1630.7,662.2L1633.7,662.3L1636.7,662.4L1639.8,662.6L1642.8,662.7L1645.8,662.8L1648.8,663L1651.8,663.1L1654.7,663.2L1657.7,663.4L1660.6,663.5L1663.5,663.6L1666.4,663.7L1669.3,663.9L1672.2,664L1675.1,664.1L1677.9,664.2L1680.7,664.3L1683.5,664.5L1686.3,664.6L1689.1,664.7L1691.9,664.8L1694.6,664.9L1697.3,665L1700,665.2L1703.5,665.3L1707,665.4L1710.5,665.6L1714,665.7L1717.6,665.9L1721.2,666L1724.7,666.2L1728.3,666.3L1731.9,666.5L1735.5,666.6L1739.1,666.8L1742.7,666.9L1746.2,667L1749.8,667.2L1753.4,667.3L1756.9,667.5L1760.4,667.6L1764,667.7L1767.5,667.9L1770.9,668L1774.4,668.1L1777.8,668.3L1781.2,668.4L1784.5,668.5L1787.9,668.7L1791.1,668.8L1794.4,668.9L1797.6,669L1800.7,669.1L1803.9,669.3L1806.9,669.4L1809.9,669.5L1812.9,669.6L1815.8,669.7L1818.6,669.8L1821.4,669.9L1824.1,670L1826.8,670.1L1829.3,670.2L1831.8,670.3L1834.3,670.4L1836.6,670.5L1838.9,670.6L1841.1,670.7L1843.2,670.7L1845.2,670.8L1847.2,670.9L1849,671L1850.8,671L1852.4,671.1L1854,671.2" stroke="#00ff00" stroke-width="12.5" fill="none" stroke-linecap="round" stroke-linejoin="round" stroke-dasharray="0 26.4" stroke-dashoffset="9.4"/>
<path d="M295,250L295.2,252.2L295.4,255.2L295.6,258.8L295.9,262.6L296.2,266.4L296.5,270L296.8,273.3L297.2,276.7L297.6,280.1L298.1,283.4L298.5,286.7L299,290L299.5,293.2L300,296.4L300.6,299.6L301.1,302.7L301.7,305.9L302.3,309L302.9,312.1L303.5,315.2L304.1,318.3L304.8,321.4L305.4,324.5L306,327.6L306.6,330.7L307.2,333.8L307.8,336.8L308.3,339.9L308.9,343L309.5,346L310.1,349L310.7,352.1L311.2,355.1L311.8,358.1L312.4,361.1L313,364L313.7,367.4L314.5,370.8L315.3,374.1L316,377.3L316.8,380.5L317.5,383.6L318.3,386.6L319,389.6L319.7,392.5L320.5,395.5L321.2,398.5L322,401.4L322.7,404.3L323.5,407.2L324.4,410.2L325.3,413.2L326.3,416.2L327.3,419.2L328.4,422.2L329.5,425.2L330.6,428.2L331.7,431.2L332.9,434.3L334.1,437.3L335.6,440.3L337.3,443.4L339.3,446.5L341.4,449.6L343.4,452.6L345.3,455.4L347.4,458.5L349.4,461.3L351.3,464L353.5,466.5L355.9,468.9L358.4,471.1L361.1,473.3L364,475.5L366.4,477.2L368.8,478.7L371.3,480.3L374.2,482.2L377.5,484.5L379.5,486L381.6,487.6L383.7,489.4L385.9,491.2L388.3,493.1L390.9,495.1L393.7,497.2L396.7,499.2L400,501.3L402.3,502.6L404.7,504L407.2,505.5L409.9,506.9L412.6,508.4L415.4,509.9L418.3,511.4L421.2,512.9L424.3,514.4L427.3,515.9L430.5,517.4L433.6,518.9L436.8,520.3L440,521.7L442.6,522.9L445.3,524L448,525.1L450.7,526.2L453.4,527.3L456.1,528.4L458.9,529.5L461.7,530.5L464.6,531.6L467.5,532.7L470.5,533.7L473.5,534.8L476.6,535.9L479.9,537L483.1,538.1L486.5,539.2L490,540.4L492.5,541.2L495.1,542L497.7,542.8L500.3,543.7L502.9,544.5L505.6,545.3L508.4,546.2L511.1,547L513.9,547.9L516.7,548.7L519.6,549.6L522.5,550.4L525.4,551.3L528.4,552.1L531.4,553L534.4,553.9L537.5,554.7L540.6,555.6L543.8,556.4L546.9,557.2L550.2,558.1L553.4,558.9L556.7,559.7L560,560.5L562.7,561.2L565.4,561.8L568.1,562.5L570.8,563.1L573.6,563.8L576.4,564.4L579.2,565.1L582,565.7L584.9,566.3L587.8,567L590.7,567.6L593.6,568.2L596.5,568.9L599.5,569.5L602.5,570.1L605.5,570.8L608.5,571.4L611.6,572L614.7,572.6L617.8,573.3L620.9,573.9L624,574.5L627.2,575.1L630.4,575.7L633.6,576.3L636.8,576.9L640.1,577.5L643.4,578.1L646.7,578.7L650,579.3L652.7,579.8L655.4,580.3L658.1,580.8L660.9,581.2L663.6,581.7L666.4,582.2L669.1,582.6L671.9,583.1L674.7,583.6L677.5,584L680.3,584.5L683.1,584.9L686,585.4L688.8,585.8L691.7,586.3L694.6,586.8L697.5,587.2L700.4,587.7L703.3,588.1L706.3,588.5L709.3,589L712.3,589.4L715.3,589.9L718.3,590.3L721.4,590.8L724.5,591.2L727.6,591.7L730.7,592.1L733.9,592.6L737,593L740.2,593.4L743.5,593.9L746.7,594.3L750,594.8L753.3,595.2L756.6,595.7L760,596.1L762.7,596.5L765.5,596.8L768.3,597.2L771.1,597.6L773.9,597.9L776.7,598.3L779.6,598.7L782.4,599L785.3,599.4L788.3,599.8L791.2,600.1L794.1,600.5L797.1,600.9L800.1,601.2L803.1,601.6L806.1,602L809.1,602.3L812.1,602.7L815.2,603L818.3,603.4L821.3,603.8L824.4,604.1L827.5,604.5L830.6,604.9L833.7,605.2L836.8,605.6L840,605.9L843.1,606.3L846.2,606.6L849.4,607L852.5,607.4L855.7,607.7L858.8,608.1L862,608.4L865.2,608.8L868.3,609.1L871.5,609.5L874.7,609.8L877.9,610.1L881,610.5L884.2,610.8L887.4,611.2L890.5,611.5L893.7,611.8L896.8,612.2L900,612.5L902.9,612.8L905.8,613.1L908.7,613.4L911.5,613.7L914.4,614L917.2,614.2L920.1,614.5L922.9,614.8L925.7,615.1L928.6,615.4L931.4,615.7L934.2,615.9L937,616.2L939.9,616.5L942.7,616.8L945.5,617L948.4,617.3L951.2,617.6L954,617.9L956.9,618.1L959.7,618.4L962.6,618.7L965.5,618.9L968.4,619.2L971.2,619.5L974.2,619.7L977.1,620L980,620.3L983,620.5L985.9,620.8L988.9,621.1L991.9,621.3L994.9,621.6L998,621.9L1001,622.1L1004.1,622.4L1007.2,622.7L1010.3,622.9L1013.5,623.2L1016.6,623.5L1019.8,623.7L1023.1,624L1026.3,624.3L1029.6,624.6L1032.9,624.8L1036.3,625.1L1039.7,625.4L1043.1,625.7L1046.5,625.9L1050,626.2L1052.7,626.4L1055.3,626.7L1058,626.9L1060.7,627.1L1063.4,627.3L1066.1,627.5L1068.8,627.7L1071.6,628L1074.3,628.2L1077.1,628.4L1079.9,628.6L1082.6,628.8L1085.4,629.1L1088.2,629.3L1091.1,629.5L1093.9,629.7L1096.7,630L1099.6,630.2L1102.5,630.4L1105.3,630.6L1108.2,630.8L1111.1,631.1L1114,631.3L1116.9,631.5L1119.9,631.7L1122.8,632L1125.8,632.2L1128.7,632.4L1131.7,632.6L1134.7,632.9L1137.7,633.1L1140.7,633.3L1143.8,633.5L1146.8,633.8L1149.8,634L1152.9,634.2L1156,634.4L1159,634.7L1162.1,634.9L1165.2,635.1L1168.4,635.3L1171.5,635.6L1174.6,635.8L1177.8,636L1180.9,636.2L1184.1,636.4L1187.3,636.7L1190.5,636.9L1193.7,637.1L1196.9,637.3L1200.2,637.6L1203.4,637.8L1206.7,638L1209.9,638.2L1213.2,638.4L1216.5,638.6L1219.8,638.9L1223.1,639.1L1226.4,639.3L1229.8,639.5L1233.1,639.7L1236.5,639.9L1239.8,640.2L1243.2,640.4L1246.6,640.6L1250,640.8L1252.7,641L1255.5,641.1L1258.2,641.3L1261,641.5L1263.8,641.6L1266.6,641.8L1269.5,642L1272.3,642.2L1275.2,642.3L1278.1,642.5L1281,642.7L1283.9,642.8L1286.9,643L1289.8,643.2L1292.8,643.4L1295.8,643.5L1298.8,643.7L1301.8,643.9L1304.8,644L1307.9,644.2L1310.9,644.4L1314,644.6L1317,644.7L1320.1,644.9L1323.2,645.1L1326.3,645.2L1329.4,645.4L1332.5,645.6L1335.6,645.7L1338.8,645.9L1341.9,646.1L1345,646.3L1348.2,646.4L1351.3,646.6L1354.5,646.8L1357.6,646.9L1360.8,647.1L1363.9,647.3L1367.1,647.4L1370.3,647.6L1373.4,647.8L1376.6,647.9L1379.7,648.1L1382.9,648.3L1386.1,648.4L1389.2,648.6L1392.4,648.8L1395.5,648.9L1398.7,649.1L1401.8,649.3L1405,649.4L1408.1,649.6L1411.2,649.7L1414.4,649.9L1417.5,650.1L1420.6,650.2L1423.7,650.4L1426.8,650.5L1429.9,650.7L1433,650.8L1436,651L1439.1,651.2L1442.1,651.3L1445.2,651.5L1448.2,651.6L1451.2,651.8L1454.2,651.9L1457.2,652.1L1460.2,652.2L1463.1,652.4L1466.1,652.5L1469,652.7L1471.9,652.8L1474.8,653L1477.7,653.1L1480.5,653.2L1483.4,653.4L1486.2,653.5L1489,653.7L1491.8,653.8L1494.5,653.9L1497.3,654.1L1500,654.2L1503.4,654.4L1506.8,654.5L1510.2,654.7L1513.5,654.9L1516.9,655L1520.2,655.2L1523.6,655.4L1526.9,655.5L1530.2,655.7L1533.5,655.8L1536.8,656L1540,656.1L1543.3,656.3L1546.5,656.5L1549.8,656.6L1553,656.8L1556.2,656.9L1559.4,657L1562.6,657.2L1565.8,657.3L1568.9,657.5L1572.1,657.6L1575.2,657.8L1578.3,657.9L1581.5,658.1L1584.6,658.2L1587.7,658.3L1590.7,658.5L1593.8,658.6L1596.9,658.7L1599.9,658.9L1603,659L1606,659.1L1609,659.3L1612,659.4L1615,659.5L1618,659.7L1621,659.8L1623.9,659.9L1626.9,660.1L1629.8,660.2L1632.8,660.3L1635.7,660.4L1638.6,660.6L1641.5,660.7L1644.4,660.8L1647.3,660.9L1650.1,661L1653,661.2L1655.8,661.3L1658.7,661.4L1661.5,661.5L1664.3,661.6L1667.1,661.8L1669.9,661.9L1672.7,662L1675.5,662.1L1678.2,662.2L1681,662.4L1683.7,662.5L1686.5,662.6L1689.2,662.7L1691.9,662.8L1694.6,662.9L1697.3,663L1700,663.2L1703.5,663.3L1707,663.4L1710.5,663.6L1714,663.7L1717.6,663.9L1721.2,664L1724.7,664.2L1728.3,664.3L1731.9,664.5L1735.5,664.6L1739.1,664.8L1742.7,664.9L1746.2,665L1749.8,665.2L1753.4,665.3L1756.9,665.5L1760.4,665.6L1764,665.7L1767.5,665.9L1770.9,666L1774.4,666.1L1777.8,666.3L1781.2,666.4L1784.5,666.5L1787.9,666.7L1791.1,666.8L1794.4,666.9L1797.6,667L1800.7,667.1L1803.9,667.3L1806.9,667.4L1809.9,667.5L1812.9,667.6L1815.8,667.7L1818.6,667.8L1821.4,667.9L1824.1,668L1826.8,668.1L1829.3,668.2L1831.8,668.3L1834.3,668.4L1836.6,668.5L1838.9,668.6L1841.1,668.7L1843.2,668.7L1845.2,668.8L1847.2,668.9L1849,669L1850.8,669L1852.4,669.1L1854,669.2" stroke="#00ff00" stroke-width="10" fill="none" stroke-linecap="round" stroke-linejoin="round"/>
<path d="M430,518.2L430,518.2L433,519.2L436,520.2L439,521.2L442,522.1L445,523L448,523.9L451,524.7L454,525.5L457,526.3L460,527.1L463,527.9L466,528.7L469,529.5L472,530.3L475,531.1L478,532L481,532.8L484,533.7L487,534.6L490,535.5L493,536.3L496,537.1L499,538L502,538.8L505,539.6L508,540.4L511,541.2L514,541.9L517,542.7L520,543.5L523,544.2L526,545L529,545.7L532,546.4L535,547.1L538,547.8L541,548.5L544,549.2L547,549.8L550,550.5L553,551.1L556,551.7L559,552.4L562,553L565,553.6L568,554.3L571,554.9L574,555.6L577,556.2L580,556.9L583,557.5L586,558.1L589,558.7L592,559.3L595,559.9L598,560.5L601,561.1L604,561.6L607,562.2L610,562.8L613,563.3L616,563.9L619,564.4L622,564.9L625,565.5L628,566L631,566.5L634,567L637,567.5L640,568L643,568.5L646,569.1L649,569.6L652,570.2L655,570.7L658,571.2L661,571.7L664,572.3L667,572.8L670,573.3L673,573.8L676,574.3L679,574.8L682,575.3L685,575.7L688,576.2L691,576.7L694,577.2L697,577.6L700,578.1L703,578.5L706,579L709,579.5L712,579.9L715,580.3L718,580.8L721,581.2L724,581.7L727,582.1L730,582.5L733,582.9L736,583.4L739,583.8L742,584.2L745,584.6L748,585L751,585.4L754,585.8L757,586.2L760,586.6L763,587L766,587.4L769,587.8L772,588.2L775,588.6L778,589L781,589.3L784,589.7L787,590.1L790,590.5L793,590.8L796,591.2L799,591.6L802,592L805,592.3L808,592.7L811,593L814,593.4L817,593.8L820,594.1L823,594.5L826,594.8L829,595.2L832,595.5L835,595.9L838,596.2L841,596.6L844,596.9L847,597.2L850,597.6L853,597.9L856,598.2L859,598.6L862,598.9L865,599.2L868,599.6L871,599.9L874,600.2L877,600.5L880,600.9L883,601.2L886,601.5L889,601.8L892,602.1L895,602.5L898,602.8L901,603.1L904,603.4L907,603.7L910,604L913,604.3L916,604.6L919,604.9L922,605.2L925,605.5L928,605.8L931,606.1L934,606.4L937,606.7L940,607L943,607.3L946,607.6L949,607.9L952,608.2L955,608.5L958,608.7L961,609L964,609.3L967,609.6L970,609.9L973,610.1L976,610.4L979,610.7L982,610.9L985,611.2L988,611.5L991,611.7L994,612L997,612.3L1000,612.5L1003,612.8L1006,613.1L1009,613.3L1012,613.6L1015,613.8L1018,614.1L1021,614.3L1024,614.6L1027,614.8L1030,615.1L1033,615.3L1036,615.6L1039,615.8L1042,616.1L1045,616.3L1048,616.6L1051,616.8L1054,617.1L1057,617.3L1060,617.5L1063,617.8L1066,618L1069,618.3L1072,618.5L1075,618.7L1078,619L1081,619.2L1084,619.5L1087,619.7L1090,619.9L1093,620.2L1096,620.4L1099,620.6L1102,620.9L1105,621.1L1108,621.3L1111,621.6L1114,621.8L1117,622L1120,622.2L1123,622.5L1126,622.7L1129,622.9L1132,623.2L1135,623.4L1138,623.6L1141,623.8L1144,624.1L1147,624.3L1150,624.5L1153,624.7L1156,624.9L1159,625.2L1162,625.4L1165,625.6L1168,625.8L1171,626L1174,626.2L1177,626.4L1180,626.7L1183,626.9L1186,627.1L1189,627.3L1192,627.5L1195,627.7L1198,627.9L1201,628.1L1204,628.3L1207,628.5L1210,628.7L1213,628.9L1216,629.1L1219,629.3L1222,629.5L1225,629.7L1228,629.9L1231,630.1L1234,630.3L1237,630.5L1240,630.7L1243,630.9L1246,631.1L1249,631.2L1252,631.4L1255,631.6L1258,631.8L1261,632L1264,632.2L1267,632.3L1270,632.5L1273,632.7L1276,632.9L1279,633.1L1282,633.2L1285,633.4L1288,633.6L1291,633.7L1294,633.9L1297,634.1L1300,634.3L1303,634.4L1306,634.6L1309,634.8L1312,634.9L1315,635.1L1318,635.3L1321,635.4L1324,635.6L1327,635.8L1330,635.9L1333,636.1L1336,636.3L1339,636.4L1342,636.6L1345,636.8L1348,636.9L1351,637.1L1354,637.2L1357,637.4L1360,637.6L1363,637.7L1366,637.9L1369,638L1372,638.2L1375,638.4L1378,638.5L1381,638.7L1384,638.8L1387,639L1390,639.1L1393,639.3L1396,639.5L1399,639.6L1402,639.8L1405,639.9L1408,640.1L1411,640.2L1414,640.4L1417,640.5L1420,640.7L1423,640.8L1426,641L1429,641.1L1432,641.3L1435,641.5L1438,641.6L1441,641.8L1444,641.9L1447,642.1L1450,642.2L1453,642.4L1456,642.5L1459,642.7L1462,642.8L1465,643L1468,643.1L1471,643.3L1474,643.4L1477,643.6L1480,643.7L1483,643.9L1486,644L1489,644.2L1492,644.3L1495,644.5L1498,644.6L1501,644.8L1504,644.9L1507,645.1L1510,645.2L1513,645.3L1516,645.5L1519,645.6L1522,645.8L1525,645.9L1528,646.1L1531,646.2L1534,646.4L1537,646.5L1540,646.6L1543,646.8L1546,646.9L1549,647.1L1552,647.2L1555,647.3L1558,647.5L1561,647.6L1564,647.8L1567,647.9L1570,648L1573,648.2L1576,648.3L1579,648.4L1582,648.6L1585,648.7L1588,648.8L1591,649L1594,649.1L1597,649.2L1600,649.4L1603,649.5L1606,649.6L1609,649.8L1612,649.9L1615,650L1618,650.2L1621,650.3L1624,650.4L1627,650.6L1630,650.7L1633,650.8L1636,650.9L1639,651.1L1642,651.2L1645,651.3L1648,651.5L1651,651.6L1654,651.7L1657,651.8L1660,652L1663,652.1L1666,652.2L1669,652.3L1672,652.5L1675,652.6L1678,652.7L1681,652.9L1684,653L1687,653.1L1690,653.2L1693,653.4L1696,653.5L1699,653.6L1702,653.7L1705,653.9L1708,654L1711,654.1L1714,654.2L1717,654.4L1720,654.5L1723,654.6L1726,654.7L1729,654.8L1732,655L1735,655.1L1738,655.2L1741,655.3L1744,655.4L1747,655.6L1750,655.7L1753,655.8L1756,655.9L1759,656L1762,656.2L1765,656.3L1768,656.4L1771,656.5L1774,656.6L1777,656.7L1780,656.9L1783,657L1786,657.1L1789,657.2L1792,657.3L1795,657.4L1798,657.5L1801,657.7L1804,657.8L1807,657.9L1810,658L1813,658.1L1816,658.2L1819,658.3L1822,658.4L1825,658.6L1828.2,658.7L1831.7,658.8L1835.1,658.9L1838,659L1840,659.1" stroke="#00ff00" stroke-width="10" fill="none" stroke-linecap="round" stroke-linejoin="round" stroke-dasharray="32.5 50.5" stroke-dashoffset="62.9"/>
<path d="M295.6,383.7L295.7,383.9L296.1,387.3L296.6,391L297.1,394.6L297.5,398L297.9,401.2L298.3,404.3L298.6,407.5L299,410.7L299.4,413.8L299.7,417L300,420.2L300.3,423.5L300.6,426.8L300.9,430L301.2,433.1L301.5,436L302,439.9L302.4,443.4L302.7,445.3" stroke="#0000ff" stroke-width="9.5" fill="none" stroke-linecap="round" stroke-linejoin="round"/>
<path d="M308.1,465L308.1,465.2L309.3,468.4L310.6,471.7L312,475L313.4,478.3L314.9,481.6L316.5,484.8L318,488L319.5,491L320.9,493.9L321.9,495.8" stroke="#0000ff" stroke-width="9.5" fill="none" stroke-linecap="round" stroke-linejoin="round"/>
<path d="M329.5,511.7L329.9,512.2" stroke="#0000ff" stroke-width="9.5" fill="none" stroke-linecap="round" stroke-linejoin="round"/>
<path d="M358.5,542L360,543.3L362.2,545.1L364.4,547L366.7,548.8L369.1,550.7L371.5,552.5L374.2,554.4L377,556.4L380,558.4L382.3,559.8L384.7,561.4L387.2,562.9L389.8,564.5L391.9,565.8" stroke="#0000ff" stroke-width="9.5" fill="none" stroke-linecap="round" stroke-linejoin="round"/>
<path d="M416.7,578.9L417.3,579.1" stroke="#0000ff" stroke-width="9.5" fill="none" stroke-linecap="round" stroke-linejoin="round"/>
<path d="M445.9,591.4L446.8,591.7L450,592.9L452.6,593.9L455.3,594.9L458,595.8L460.7,596.8L463.4,597.8L466.1,598.7L468.9,599.7L471.7,600.6L474.6,601.6L477.5,602.5L480.5,603.5L483.5,604.4L486.6,605.4L489.9,606.3L493.1,607.3L496.5,608.3L500,609.3L502.5,610L505.1,610.7L507.7,611.4L510.4,612.1L510.4,612.1" stroke="#0000ff" stroke-width="9.5" fill="none" stroke-linecap="round" stroke-linejoin="round"/>
<path d="M525.6,616.1L527.2,616.5L530.2,617.3L533.1,618L536.1,618.7L539.1,619.5L542.1,620.2L545.2,620.9L548.2,621.7L551.3,622.4L554.4,623.1L557.4,623.8" stroke="#0000ff" stroke-width="9.5" fill="none" stroke-linecap="round" stroke-linejoin="round"/>
<path d="M575.7,627.8L576.3,628" stroke="#0000ff" stroke-width="9.5" fill="none" stroke-linecap="round" stroke-linejoin="round"/>
<path d="M608.7,634.5L608.9,634.5L611.8,635.1L614.8,635.6L617.7,636.2L620.7,636.7L623.8,637.3L626.9,637.8L630,638.4L633.2,638.9L636.4,639.5L639.7,640L641.3,640.3" stroke="#0000ff" stroke-width="9.5" fill="none" stroke-linecap="round" stroke-linejoin="round"/>
<path d="M648,642.2L650,642.5L652.6,643L655.2,643.4L657.8,643.8L660.4,644.2L663.1,644.7L665.8,645.1L668.5,645.5L671.2,646L674,646.4L676.8,646.8L679.6,647.3L682.4,647.7L685.2,648.1L688.1,648.6L691,649L693.9,649.5L696.8,649.9L699.8,650.3L702.7,650.8L705.7,651.2L708.8,651.7L711.8,652.1L714.9,652.5L717.9,653L721,653.4L724.2,653.8L727.3,654.3L730.5,654.7L733.7,655.2L736.9,655.6L740.1,656L743.4,656.5L746.7,656.9L750,657.3L753.3,657.8L756.6,658.2L760,658.6L762.7,659L765.5,659.3L768.3,659.7L771.1,660L773.9,660.4L776.7,660.7L779.6,661.1L782.4,661.4L785.3,661.8L788.3,662.1L791.2,662.5L794.1,662.8L797.1,663.2L800.1,663.5L803.1,663.9L806.1,664.2L809.1,664.6L812.1,664.9L815.2,665.3L818.3,665.6L821.3,666L824.4,666.3L827.5,666.7L830.6,667L833.7,667.4L836.8,667.7L840,668.1L843.1,668.4L846.2,668.7L849.4,669.1L852.5,669.4L855.7,669.8L858.8,670.1L862,670.4L865.2,670.8L868.3,671.1L871.5,671.4L874.7,671.8L877.9,672.1L881,672.4L884.2,672.8L887.4,673.1L890.5,673.4L893.7,673.7L896.8,674L900,674.4L902.9,674.7L905.8,674.9L908.7,675.2L911.5,675.5L914.4,675.8L917.2,676.1L920.1,676.3L922.9,676.6L925.7,676.9L928.6,677.2L931.4,677.4L934.2,677.7L937,678L939.9,678.2L942.7,678.5L945.5,678.8L948.4,679L951.2,679.3L954,679.5L956.9,679.8L959.7,680.1L962.6,680.3L965.5,680.6L968.4,680.8L971.2,681.1L974.2,681.4L977.1,681.6L980,681.9L983,682.1L985.9,682.4L988.9,682.6L991.9,682.9L994.9,683.2L998,683.4L1001,683.7L1004.1,683.9L1007.2,684.2L1010.3,684.4L1013.5,684.7L1016.6,685L1019.8,685.2L1023.1,685.5L1026.3,685.8L1029.6,686L1032.9,686.3L1036.3,686.6L1039.7,686.8L1043.1,687.1L1046.5,687.4L1050,687.6L1052.7,687.8L1055.3,688.1L1058.1,688.3L1060.8,688.5L1063.5,688.7L1066.3,688.9L1069.1,689.1L1071.9,689.3L1074.7,689.5L1077.6,689.8L1080.4,690L1083.3,690.2L1086.2,690.4L1089.1,690.6L1092.1,690.8L1095,691.1L1098,691.3L1100.9,691.5L1103.9,691.7L1106.9,691.9L1109.9,692.2L1113,692.4L1116,692.6L1119,692.8L1122.1,693L1125.2,693.3L1128.2,693.5L1131.3,693.7L1134.4,693.9L1137.5,694.1L1140.6,694.4L1143.8,694.6L1146.9,694.8L1150,695L1153.1,695.2L1156.3,695.5L1159.4,695.7L1162.6,695.9L1165.7,696.1L1168.9,696.3L1172,696.6L1175.2,696.8L1178.3,697L1181.5,697.2L1184.6,697.4L1187.8,697.6L1190.9,697.8L1194.1,698.1L1197.3,698.3L1200.4,698.5L1203.5,698.7L1206.7,698.9L1209.8,699.1L1213,699.3L1216.1,699.5L1219.2,699.7L1222.3,699.9L1225.4,700.1L1228.5,700.4L1231.6,700.6L1234.7,700.8L1237.8,701L1240.9,701.2L1243.9,701.3L1247,701.5L1250,701.7L1253,701.9L1256.1,702.1L1259.1,702.3L1262.1,702.5L1265.2,702.7L1268.2,702.9L1271.2,703.1L1274.2,703.3L1277.3,703.4L1280.3,703.6L1283.3,703.8L1286.4,704L1289.4,704.2L1292.4,704.4L1295.5,704.6L1298.5,704.7L1301.5,704.9L1304.5,705.1L1307.6,705.3L1310.6,705.5L1313.6,705.6L1316.7,705.8L1319.7,706L1322.7,706.2L1325.8,706.3L1328.8,706.5L1331.8,706.7L1334.8,706.9L1337.9,707L1340.9,707.2L1343.9,707.4L1347,707.6L1350,707.7L1353,707.9L1356.1,708.1L1359.1,708.2L1362.1,708.4L1365.2,708.6L1368.2,708.8L1371.2,708.9L1374.2,709.1L1377.3,709.3L1380.3,709.4L1383.3,709.6L1386.4,709.8L1389.4,709.9L1392.4,710.1L1395.5,710.3L1398.5,710.4L1401.5,710.6L1404.5,710.7L1407.6,710.9L1410.6,711.1L1413.6,711.2L1416.7,711.4L1419.7,711.6L1422.7,711.7L1425.8,711.9L1428.8,712L1431.8,712.2L1434.8,712.4L1437.9,712.5L1440.9,712.7L1443.9,712.8L1447,713L1450,713.2L1453,713.3L1456.1,713.5L1459.1,713.6L1462.1,713.8L1465.1,714L1468.2,714.1L1471.2,714.3L1474.2,714.4L1477.2,714.6L1480.3,714.7L1483.3,714.9L1486.3,715L1489.3,715.2L1492.4,715.3L1495.4,715.5L1498.4,715.6L1501.4,715.8L1504.4,715.9L1507.5,716.1L1510.5,716.2L1513.5,716.4L1516.5,716.5L1519.5,716.7L1522.6,716.8L1525.6,717L1528.6,717.1L1531.6,717.3L1534.6,717.4L1537.7,717.6L1540.7,717.7L1543.7,717.9L1546.7,718L1549.8,718.2L1552.8,718.3L1555.8,718.4L1558.8,718.6L1561.8,718.7L1564.9,718.9L1567.9,719L1570.9,719.2L1574,719.3L1577,719.4L1580,719.6L1583,719.7L1586.1,719.9L1589.1,720L1592.1,720.1L1595.2,720.3L1598.2,720.4L1601.2,720.6L1604.3,720.7L1607.3,720.8L1610.4,721L1613.4,721.1L1616.4,721.3L1619.5,721.4L1622.5,721.5L1625.6,721.7L1628.6,721.8L1631.7,721.9L1634.7,722.1L1637.8,722.2L1640.8,722.4L1643.9,722.5L1646.9,722.6L1650,722.8L1653,722.9L1656,723L1659.1,723.2L1662.2,723.3L1665.4,723.4L1668.6,723.6L1671.8,723.7L1675.1,723.9L1678.4,724L1681.7,724.2L1685,724.3L1688.4,724.4L1691.8,724.6L1695.2,724.7L1698.6,724.9L1702,725L1705.5,725.2L1709,725.3L1712.4,725.5L1715.9,725.6L1719.4,725.7L1722.9,725.9L1726.4,726L1729.9,726.2L1733.4,726.3L1736.9,726.5L1740.4,726.6L1743.9,726.8L1747.4,726.9L1750.8,727L1754.3,727.2L1757.7,727.3L1761.1,727.5L1764.5,727.6L1767.9,727.7L1771.2,727.9L1774.5,728L1777.8,728.1L1781.1,728.3L1784.3,728.4L1787.5,728.5L1790.7,728.7L1793.8,728.8L1796.9,728.9L1800,729L1803,729.1L1805.9,729.3L1808.8,729.4L1811.7,729.5L1814.5,729.6L1817.2,729.7L1819.9,729.8L1822.6,729.9L1825.2,730L1827.7,730.1L1830.2,730.2L1832.5,730.3L1834.9,730.4L1837.1,730.5L1839.3,730.6L1841.4,730.7L1843.5,730.8L1845.4,730.9L1847.3,730.9L1849.1,731L1850.8,731.1L1852.5,731.1L1854,731.2" stroke="#0000ff" stroke-width="9.5" fill="none" stroke-linecap="round" stroke-linejoin="round" stroke-dasharray="31.5 51.5" stroke-dashoffset="39.8"/>
<path d="M648,641.4L650,641.7L652.6,642.2L655.2,642.6L657.8,643L660.4,643.4L663.1,643.9L665.8,644.3L668.5,644.7L671.2,645.2L674,645.6L676.8,646L679.6,646.5L682.4,646.9L685.2,647.3L688.1,647.8L691,648.2L693.9,648.7L696.8,649.1L699.8,649.5L702.7,650L705.7,650.4L708.8,650.9L711.8,651.3L714.9,651.7L717.9,652.2L721,652.6L724.2,653L727.3,653.5L730.5,653.9L733.7,654.4L736.9,654.8L740.1,655.2L743.4,655.7L746.7,656.1L750,656.5L753.3,657L756.6,657.4L760,657.8L762.7,658.2L765.5,658.5L768.3,658.9L771.1,659.2L773.9,659.6L776.7,659.9L779.6,660.3L782.4,660.6L785.3,661L788.3,661.3L791.2,661.7L794.1,662L797.1,662.4L800.1,662.7L803.1,663.1L806.1,663.4L809.1,663.8L812.1,664.1L815.2,664.5L818.3,664.8L821.3,665.2L824.4,665.5L827.5,665.9L830.6,666.2L833.7,666.6L836.8,666.9L840,667.3L843.1,667.6L846.2,667.9L849.4,668.3L852.5,668.6L855.7,669L858.8,669.3L862,669.6L865.2,670L868.3,670.3L871.5,670.6L874.7,671L877.9,671.3L881,671.6L884.2,672L887.4,672.3L890.5,672.6L893.7,672.9L896.8,673.2L900,673.6L902.9,673.9L905.8,674.1L908.7,674.4L911.5,674.7L914.4,675L917.2,675.3L920.1,675.5L922.9,675.8L925.7,676.1L928.6,676.4L931.4,676.6L934.2,676.9L937,677.2L939.9,677.4L942.7,677.7L945.5,678L948.4,678.2L951.2,678.5L954,678.7L956.9,679L959.7,679.3L962.6,679.5L965.5,679.8L968.4,680L971.2,680.3L974.2,680.6L977.1,680.8L980,681.1L983,681.3L985.9,681.6L988.9,681.8L991.9,682.1L994.9,682.4L998,682.6L1001,682.9L1004.1,683.1L1007.2,683.4L1010.3,683.6L1013.5,683.9L1016.6,684.2L1019.8,684.4L1023.1,684.7L1026.3,685L1029.6,685.2L1032.9,685.5L1036.3,685.8L1039.7,686L1043.1,686.3L1046.5,686.6L1050,686.8L1052.7,687L1055.3,687.3L1058.1,687.5L1060.8,687.7L1063.5,687.9L1066.3,688.1L1069.1,688.3L1071.9,688.5L1074.7,688.7L1077.6,689L1080.4,689.2L1083.3,689.4L1086.2,689.6L1089.1,689.8L1092.1,690L1095,690.3L1098,690.5L1100.9,690.7L1103.9,690.9L1106.9,691.1L1109.9,691.4L1113,691.6L1116,691.8L1119,692L1122.1,692.2L1125.2,692.5L1128.2,692.7L1131.3,692.9L1134.4,693.1L1137.5,693.3L1140.6,693.6L1143.8,693.8L1146.9,694L1150,694.2L1153.1,694.4L1156.3,694.7L1159.4,694.9L1162.6,695.1L1165.7,695.3L1168.9,695.5L1172,695.8L1175.2,696L1178.3,696.2L1181.5,696.4L1184.6,696.6L1187.8,696.8L1190.9,697L1194.1,697.3L1197.3,697.5L1200.4,697.7L1203.5,697.9L1206.7,698.1L1209.8,698.3L1213,698.5L1216.1,698.7L1219.2,698.9L1222.3,699.1L1225.4,699.3L1228.5,699.6L1231.6,699.8L1234.7,700L1237.8,700.2L1240.9,700.4L1243.9,700.5L1247,700.7L1250,700.9L1253,701.1L1256.1,701.3L1259.1,701.5L1262.1,701.7L1265.2,701.9L1268.2,702.1L1271.2,702.3L1274.2,702.5L1277.3,702.6L1280.3,702.8L1283.3,703L1286.4,703.2L1289.4,703.4L1292.4,703.6L1295.5,703.8L1298.5,703.9L1301.5,704.1L1304.5,704.3L1307.6,704.5L1310.6,704.7L1313.6,704.8L1316.7,705L1319.7,705.2L1322.7,705.4L1325.8,705.5L1328.8,705.7L1331.8,705.9L1334.8,706.1L1337.9,706.2L1340.9,706.4L1343.9,706.6L1347,706.8L1350,706.9L1353,707.1L1356.1,707.3L1359.1,707.4L1362.1,707.6L1365.2,707.8L1368.2,708L1371.2,708.1L1374.2,708.3L1377.3,708.5L1380.3,708.6L1383.3,708.8L1386.4,709L1389.4,709.1L1392.4,709.3L1395.5,709.5L1398.5,709.6L1401.5,709.8L1404.5,709.9L1407.6,710.1L1410.6,710.3L1413.6,710.4L1416.7,710.6L1419.7,710.8L1422.7,710.9L1425.8,711.1L1428.8,711.2L1431.8,711.4L1434.8,711.6L1437.9,711.7L1440.9,711.9L1443.9,712L1447,712.2L1450,712.4L1453,712.5L1456.1,712.7L1459.1,712.8L1462.1,713L1465.1,713.2L1468.2,713.3L1471.2,713.5L1474.2,713.6L1477.2,713.8L1480.3,713.9L1483.3,714.1L1486.3,714.2L1489.3,714.4L1492.4,714.5L1495.4,714.7L1498.4,714.8L1501.4,715L1504.4,715.1L1507.5,715.3L1510.5,715.4L1513.5,715.6L1516.5,715.7L1519.5,715.9L1522.6,716L1525.6,716.2L1528.6,716.3L1531.6,716.5L1534.6,716.6L1537.7,716.8L1540.7,716.9L1543.7,717.1L1546.7,717.2L1549.8,717.4L1552.8,717.5L1555.8,717.6L1558.8,717.8L1561.8,717.9L1564.9,718.1L1567.9,718.2L1570.9,718.4L1574,718.5L1577,718.6L1580,718.8L1583,718.9L1586.1,719.1L1589.1,719.2L1592.1,719.3L1595.2,719.5L1598.2,719.6L1601.2,719.8L1604.3,719.9L1607.3,720L1610.4,720.2L1613.4,720.3L1616.4,720.5L1619.5,720.6L1622.5,720.7L1625.6,720.9L1628.6,721L1631.7,721.1L1634.7,721.3L1637.8,721.4L1640.8,721.6L1643.9,721.7L1646.9,721.8L1650,722L1653,722.1L1656,722.2L1659.1,722.4L1662.2,722.5L1665.4,722.6L1668.6,722.8L1671.8,722.9L1675.1,723.1L1678.4,723.2L1681.7,723.4L1685,723.5L1688.4,723.6L1691.8,723.8L1695.2,723.9L1698.6,724.1L1702,724.2L1705.5,724.4L1709,724.5L1712.4,724.7L1715.9,724.8L1719.4,724.9L1722.9,725.1L1726.4,725.2L1729.9,725.4L1733.4,725.5L1736.9,725.7L1740.4,725.8L1743.9,726L1747.4,726.1L1750.8,726.2L1754.3,726.4L1757.7,726.5L1761.1,726.7L1764.5,726.8L1767.9,726.9L1771.2,727.1L1774.5,727.2L1777.8,727.3L1781.1,727.5L1784.3,727.6L1787.5,727.7L1790.7,727.9L1793.8,728L1796.9,728.1L1800,728.2L1803,728.3L1805.9,728.5L1808.8,728.6L1811.7,728.7L1814.5,728.8L1817.2,728.9L1819.9,729L1822.6,729.1L1825.2,729.2L1827.7,729.3L1830.2,729.4L1832.5,729.5L1834.9,729.6L1837.1,729.7L1839.3,729.8L1841.4,729.9L1843.5,730L1845.4,730.1L1847.3,730.1L1849.1,730.2L1850.8,730.3L1852.5,730.3L1854,730.4" stroke="#0000ff" stroke-width="9.5" fill="none" stroke-linecap="round" stroke-linejoin="round" stroke-dasharray="28.5 30 4 28.7 4 30" stroke-dashoffset="38.9"/>
<path d="M293.6,421L293.8,423.1L294.2,426L294.6,429.4L295,432.8L295.5,436L296.2,439.9L297.1,443.9L297.9,447.5L298.5,450" stroke="#0000ff" stroke-width="9.5" fill="none" stroke-linecap="round" stroke-linejoin="round"/>
<circle cx="294.5" cy="654.6" r="5.8" fill="#0000ff"/>
<circle cx="297.3" cy="680.6" r="5.8" fill="#0000ff"/>
<circle cx="301.7" cy="706.6" r="5.8" fill="#0000ff"/>
<circle cx="306" cy="732.7" r="5.8" fill="#0000ff"/>
<circle cx="314.7" cy="760" r="5.8" fill="#0000ff"/>
<circle cx="329.1" cy="786.1" r="5.8" fill="#0000ff"/>
<circle cx="347.9" cy="812.1" r="5.8" fill="#0000ff"/>
<circle cx="372.5" cy="836.8" r="5.8" fill="#0000ff"/>
<circle cx="398.5" cy="852.6" r="5.8" fill="#0000ff"/>
<circle cx="424.5" cy="866" r="5.8" fill="#0000ff"/>
<circle cx="451.5" cy="876" r="5.8" fill="#0000ff"/>
<path d="M470,883L471.7,883.5L473.8,884.1L476.3,884.8L479,885.6L482,886.4L485.2,887.3L488.5,888.3L492,889.3L495.5,890.3L499.1,891.3L502.7,892.3L506.2,893.3L509.6,894.2L512.9,895.2L516,896L519,896.8L521.9,897.6L524.7,898.4L527.5,899.1L530.3,899.9L533.1,900.6L535.9,901.3L538.7,902.1L541.5,902.8L544.4,903.5L547.4,904.3L550.4,905L553.5,905.8L556.7,906.6L560,907.4L562.7,908L565.4,908.6L568.1,909.3L570.8,909.9L573.5,910.6L576.3,911.2L579.1,911.9L582,912.6L584.9,913.2L587.8,913.9L590.8,914.6L593.9,915.2L597,915.9L600.2,916.6L603.5,917.3L606.9,918L610.3,918.7L613.9,919.3L617.5,920L620.1,920.5L622.8,921L625.6,921.5L628.4,922L631.2,922.5L634.1,923L637,923.5L640,924L643.1,924.6L646.1,925.1L649.2,925.6L652.3,926.1L655.5,926.6L658.6,927.1L661.8,927.7L665,928.2L668.2,928.7L671.4,929.2L674.6,929.7L677.8,930.2L681,930.7L684.2,931.2L687.4,931.7L690.6,932.2L693.7,932.7L696.9,933.1L700,933.6L703,934.1L706,934.5L709,934.9L712,935.4L715,935.8L718,936.3L721.1,936.7L724.1,937.1L727.1,937.6L730.2,938L733.2,938.4L736.3,938.8L739.3,939.3L742.3,939.7L745.4,940.1L748.4,940.5L751.5,940.9L754.5,941.3L757.6,941.7L760.6,942.1L763.7,942.5L766.7,942.9L769.8,943.3L772.8,943.7L775.9,944.1L778.9,944.4L782,944.8L785,945.2L788,945.5L791.1,945.9L794.1,946.3L797.2,946.6L800.2,947L803.3,947.3L806.3,947.6L809.4,948L812.4,948.3L815.5,948.6L818.5,949L821.6,949.3L824.6,949.6L827.6,949.9L830.7,950.3L833.7,950.6L836.8,950.9L839.8,951.2L842.9,951.5L845.9,951.8L848.9,952.1L851.9,952.4L855,952.7L858,953L861,953.3L864,953.6L867,953.9L870,954.3L873.1,954.6L876.2,954.9L879.3,955.2L882.3,955.5L885.4,955.8L888.4,956.1L891.5,956.4L894.5,956.8L897.5,957.1L900.6,957.4L903.6,957.7L906.6,958L909.6,958.3L912.7,958.6L915.7,958.9L918.7,959.2L921.8,959.5L924.8,959.7L927.8,960L930.9,960.3L934,960.6L937,960.9L940.1,961.2L943.2,961.5L946.3,961.8L949.5,962L952.6,962.3L955.5,962.6L958.5,962.8L961.5,963.1L964.5,963.4L967.5,963.6L970.5,963.9L973.5,964.1L976.6,964.4L979.6,964.6L982.7,964.9L985.7,965.1L988.8,965.4L991.9,965.6L994.9,965.9L998,966.1L1001.1,966.4L1004.1,966.6L1007.2,966.8L1010.2,967.1L1013.3,967.3L1016.3,967.6L1019.3,967.8L1022.3,968L1025.3,968.3L1028.3,968.5L1031.2,968.7L1034.2,968.9L1037.1,969.2L1040,969.4L1043.2,969.7L1046.3,969.9L1049.3,970.1L1052.2,970.4L1055.1,970.6L1057.9,970.8L1060.7,971L1063.5,971.3L1066.3,971.5L1069,971.7L1071.8,971.9L1074.6,972.1L1077.3,972.4L1080.2,972.6L1083,972.8L1085.9,973L1088.9,973.2L1091.9,973.5L1095.1,973.7L1098.3,973.9L1101.6,974.2L1105,974.4L1108.6,974.7L1112.2,974.9L1116,975.2L1120,975.5L1122.5,975.6L1124.9,975.8L1127.4,976L1129.9,976.2L1132.4,976.3L1135,976.5L1137.5,976.7L1140.1,976.9L1142.7,977L1145.4,977.2L1148,977.4L1150.7,977.6L1153.4,977.8L1156.1,977.9L1158.9,978.1L1161.7,978.3L1164.5,978.5L1167.3,978.7L1170.2,978.9L1173.1,979.1L1176,979.3L1179,979.4L1182,979.6L1185,979.8L1188.1,980L1191.2,980.2L1194.3,980.4L1197.5,980.6L1200.7,980.8L1204,981L1207.2,981.3L1210.6,981.5L1213.9,981.7L1217.3,981.9L1220.8,982.1L1224.3,982.3L1227.8,982.5L1231.4,982.7L1235,982.9L1238.7,983.2L1242.4,983.4L1246.2,983.6L1250,983.8L1252.5,984L1255.1,984.1L1257.6,984.3L1260.2,984.4L1262.9,984.6L1265.6,984.7L1268.2,984.9L1271,985.1L1273.7,985.2L1276.5,985.4L1279.3,985.5L1282.1,985.7L1284.9,985.9L1287.8,986L1290.7,986.2L1293.6,986.4L1296.5,986.5L1299.5,986.7L1302.5,986.9L1305.5,987L1308.5,987.2L1311.5,987.4L1314.5,987.5L1317.6,987.7L1320.6,987.9L1323.7,988.1L1326.8,988.2L1329.9,988.4L1333,988.6L1336.2,988.8L1339.3,988.9L1342.5,989.1L1345.6,989.3L1348.8,989.4L1352,989.6L1355.1,989.8L1358.3,990L1361.5,990.1L1364.7,990.3L1367.9,990.5L1371.1,990.7L1374.3,990.8L1377.5,991L1380.7,991.2L1383.9,991.4L1387.2,991.5L1390.4,991.7L1393.6,991.9L1396.8,992L1400,992.2L1403.1,992.4L1406.3,992.5L1409.5,992.7L1412.7,992.9L1415.9,993L1419,993.2L1422.2,993.4L1425.3,993.5L1428.4,993.7L1431.6,993.8L1434.7,994L1437.8,994.1L1440.8,994.3L1443.9,994.5L1447,994.6L1450,994.8L1453,994.9L1456.1,995L1459.1,995.2L1462.1,995.3L1465.1,995.5L1468.2,995.6L1471.2,995.8L1474.2,995.9L1477.2,996.1L1480.3,996.2L1483.3,996.3L1486.3,996.5L1489.3,996.6L1492.4,996.8L1495.4,996.9L1498.4,997L1501.4,997.2L1504.4,997.3L1507.5,997.4L1510.5,997.6L1513.5,997.7L1516.5,997.8L1519.5,998L1522.6,998.1L1525.6,998.2L1528.6,998.4L1531.6,998.5L1534.6,998.6L1537.7,998.8L1540.7,998.9L1543.7,999L1546.7,999.2L1549.8,999.3L1552.8,999.4L1555.8,999.5L1558.8,999.7L1561.8,999.8L1564.9,999.9L1567.9,1000L1570.9,1000.2L1574,1000.3L1577,1000.4L1580,1000.6L1583,1000.7L1586.1,1000.8L1589.1,1000.9L1592.1,1001.1L1595.2,1001.2L1598.2,1001.3L1601.2,1001.4L1604.3,1001.6L1607.3,1001.7L1610.4,1001.8L1613.4,1001.9L1616.4,1002L1619.5,1002.2L1622.5,1002.3L1625.6,1002.4L1628.6,1002.5L1631.7,1002.7L1634.7,1002.8L1637.8,1002.9L1640.8,1003L1643.9,1003.2L1646.9,1003.3L1650,1003.4L1653,1003.5L1656,1003.6L1659.1,1003.8L1662.2,1003.9L1665.4,1004L1668.6,1004.1L1671.8,1004.3L1675.1,1004.4L1678.4,1004.5L1681.7,1004.6L1685,1004.8L1688.4,1004.9L1691.8,1005L1695.2,1005.2L1698.6,1005.3L1702,1005.4L1705.5,1005.6L1709,1005.7L1712.4,1005.8L1715.9,1005.9L1719.4,1006.1L1722.9,1006.2L1726.4,1006.3L1729.9,1006.5L1733.4,1006.6L1736.9,1006.7L1740.4,1006.9L1743.9,1007L1747.4,1007.1L1750.8,1007.2L1754.3,1007.4L1757.7,1007.5L1761.1,1007.6L1764.5,1007.7L1767.9,1007.9L1771.2,1008L1774.5,1008.1L1777.8,1008.2L1781.1,1008.3L1784.3,1008.5L1787.5,1008.6L1790.7,1008.7L1793.8,1008.8L1796.9,1008.9L1800,1009L1803,1009.1L1805.9,1009.2L1808.8,1009.4L1811.7,1009.5L1814.5,1009.6L1817.2,1009.7L1819.9,1009.8L1822.6,1009.9L1825.2,1009.9L1827.7,1010L1830.2,1010.1L1832.5,1010.2L1834.9,1010.3L1837.1,1010.4L1839.3,1010.5L1841.4,1010.5L1843.5,1010.6L1845.4,1010.7L1847.3,1010.8L1849.1,1010.8L1850.8,1010.9L1852.5,1010.9L1854,1011" stroke="#0000ff" stroke-width="13" fill="none" stroke-linecap="round" stroke-linejoin="round" stroke-dasharray="0 26.4" stroke-dashoffset="10.1"/>
<path d="M294.5,524.6L294.6,526.5L294.7,528.9L294.8,531.8L294.9,535L295.1,538.4L295.2,542L295.4,545.7L295.5,549.3L295.7,552.8L295.8,556L295.9,559.1L296.1,562.1L296.2,565.1L296.3,568.1L296.5,571.1L296.6,574.1L296.8,577.1L296.9,580.1L297.1,583L297.3,586L297.5,589.3L297.7,592.5L298,595.7L298.2,599L298.5,602.2L298.8,605.4L299,608.6L299.3,611.8L299.6,615L299.9,618.2L300.2,621.4L300.5,624.7L300.8,627.9L301.2,631.1L301.5,634.3L301.9,637.6L302.2,640.8L302.6,644L303,647.2L303.4,650.5L303.8,653.7L304.2,656.9L304.7,660.2L305.1,663.4L305.6,666.6L306,669.8L306.5,673L307,676.2L307.5,679.4L307.9,682.6L308.4,685.7L308.9,688.9L309.4,692L310,695.1L310.5,698.1L311,701L311.6,704.2L312.2,707.4L312.8,710.4L313.4,713.4L314.1,716.4L314.7,719.3L315.3,722.2L316,725L316.8,728.2L317.5,731.3L318.3,734.4L319.1,737.4L319.9,740.3L320.7,743.2L321.5,746L322.5,749.2L323.4,752.3L324.4,755.4L325.4,758.3L326.5,761.2L327.5,764L328.8,767.2L330,770.3L331.3,773.3L332.7,776.2L334,779L335.6,782.2L337.1,785.1L338.8,788.2L341,792L342.3,794.3L343.8,796.9L345.3,799.7L346.9,802.6L348.6,805.5L350.5,808.4L352.4,811.3L354.5,814L356.4,816.3L358.3,818.5L360.3,820.7L362.3,822.9L364.5,825.1L366.8,827.3L369.3,829.5L372,831.7L375,834L377.2,835.6L379.6,837.3L382.2,839.1L384.8,840.8L387.6,842.6L390.4,844.4L393.3,846.1L396.2,847.9L399.1,849.6L402,851.3L404.9,852.9L407.7,854.5L410.5,856L413.5,857.6L416.4,859.1L419.4,860.5L422.4,861.9L425.3,863.3L428.3,864.6L431.2,865.9L434.2,867.2L437.2,868.4L440.1,869.6L443.1,870.8L446,872L448.9,873.1L451.9,874.3L454.8,875.3L457.7,876.4L460.6,877.4L463.5,878.4L466.4,879.4L469.4,880.3L472.3,881.3L475.2,882.2L478.1,883.1L481,884L483.9,884.9L486.7,885.7L489.5,886.5L492.3,887.3L495.1,888L497.9,888.8L500.8,889.5L503.7,890.2L506.6,891L509.6,891.8L512.8,892.6L516,893.5L518.6,894.2L521.3,895L524,895.7L526.7,896.5L529.5,897.2L532.3,898L535.2,898.8L538,899.6L541,900.4L544,901.2L547.1,902.1L550.2,902.9L553.4,903.7L556.7,904.5L560,905.4L562.7,906L565.4,906.7L568.1,907.4L570.8,908.1L573.5,908.7L576.3,909.4L579.1,910.1L582,910.8L584.9,911.5L587.8,912.2L590.8,912.9L593.9,913.6L597,914.3L600.2,915L603.5,915.7L606.9,916.4L610.3,917.1L613.9,917.8L617.5,918.5L620.1,919L622.8,919.5L625.6,920L628.4,920.5L631.2,921L634.1,921.6L637,922.1L640,922.6L643.1,923.1L646.1,923.6L649.2,924.1L652.3,924.6L655.5,925.2L658.6,925.7L661.8,926.2L665,926.7L668.2,927.2L671.4,927.7L674.6,928.2L677.8,928.7L681,929.2L684.2,929.7L687.4,930.2L690.6,930.7L693.7,931.2L696.9,931.6L700,932.1L703,932.6L706,933L709,933.4L712,933.9L715,934.3L718,934.8L721.1,935.2L724.1,935.6L727.1,936.1L730.2,936.5L733.2,936.9L736.3,937.3L739.3,937.8L742.3,938.2L745.4,938.6L748.4,939L751.5,939.4L754.5,939.8L757.6,940.2L760.6,940.6L763.7,941L766.7,941.4L769.8,941.8L772.8,942.2L775.9,942.6L778.9,942.9L782,943.3L785,943.7L788,944L791.1,944.4L794.1,944.8L797.2,945.1L800.2,945.5L803.3,945.8L806.3,946.1L809.4,946.5L812.4,946.8L815.5,947.1L818.5,947.5L821.6,947.8L824.6,948.1L827.6,948.4L830.7,948.8L833.7,949.1L836.8,949.4L839.8,949.7L842.9,950L845.9,950.3L848.9,950.6L851.9,950.9L855,951.2L858,951.5L861,951.8L864,952.1L867,952.4L870,952.8L873.1,953.1L876.2,953.4L879.3,953.7L882.3,954L885.4,954.3L888.4,954.6L891.5,954.9L894.5,955.3L897.5,955.6L900.6,955.9L903.6,956.2L906.6,956.5L909.6,956.8L912.7,957.1L915.7,957.4L918.7,957.7L921.8,958L924.8,958.2L927.8,958.5L930.9,958.8L934,959.1L937,959.4L940.1,959.7L943.2,960L946.3,960.3L949.5,960.5L952.6,960.8L955.5,961.1L958.5,961.3L961.5,961.6L964.5,961.9L967.5,962.1L970.5,962.4L973.5,962.6L976.6,962.9L979.6,963.1L982.7,963.4L985.7,963.6L988.8,963.9L991.9,964.1L994.9,964.4L998,964.6L1001.1,964.9L1004.1,965.1L1007.2,965.3L1010.2,965.6L1013.3,965.8L1016.3,966.1L1019.3,966.3L1022.3,966.5L1025.3,966.8L1028.3,967L1031.2,967.2L1034.2,967.4L1037.1,967.7L1040,967.9L1043.2,968.2L1046.3,968.4L1049.3,968.6L1052.2,968.9L1055.1,969.1L1057.9,969.3L1060.7,969.5L1063.5,969.8L1066.3,970L1069,970.2L1071.8,970.4L1074.6,970.6L1077.3,970.9L1080.2,971.1L1083,971.3L1085.9,971.5L1088.9,971.7L1091.9,972L1095.1,972.2L1098.3,972.4L1101.6,972.7L1105,972.9L1108.6,973.2L1112.2,973.4L1116,973.7L1120,974L1122.5,974.1L1124.9,974.3L1127.4,974.5L1129.9,974.7L1132.4,974.8L1135,975L1137.5,975.2L1140.1,975.4L1142.7,975.5L1145.4,975.7L1148,975.9L1150.7,976.1L1153.4,976.3L1156.1,976.4L1158.9,976.6L1161.7,976.8L1164.5,977L1167.3,977.2L1170.2,977.4L1173.1,977.6L1176,977.8L1179,977.9L1182,978.1L1185,978.3L1188.1,978.5L1191.2,978.7L1194.3,978.9L1197.5,979.1L1200.7,979.3L1204,979.5L1207.2,979.8L1210.6,980L1213.9,980.2L1217.3,980.4L1220.8,980.6L1224.3,980.8L1227.8,981L1231.4,981.2L1235,981.4L1238.7,981.7L1242.4,981.9L1246.2,982.1L1250,982.3L1252.5,982.5L1255.1,982.6L1257.6,982.8L1260.2,982.9L1262.9,983.1L1265.6,983.2L1268.2,983.4L1271,983.6L1273.7,983.7L1276.5,983.9L1279.3,984L1282.1,984.2L1284.9,984.4L1287.8,984.5L1290.7,984.7L1293.6,984.9L1296.5,985L1299.5,985.2L1302.5,985.4L1305.5,985.5L1308.5,985.7L1311.5,985.9L1314.5,986L1317.6,986.2L1320.6,986.4L1323.7,986.6L1326.8,986.7L1329.9,986.9L1333,987.1L1336.2,987.3L1339.3,987.4L1342.5,987.6L1345.6,987.8L1348.8,987.9L1352,988.1L1355.1,988.3L1358.3,988.5L1361.5,988.6L1364.7,988.8L1367.9,989L1371.1,989.2L1374.3,989.3L1377.5,989.5L1380.7,989.7L1383.9,989.9L1387.2,990L1390.4,990.2L1393.6,990.4L1396.8,990.5L1400,990.7L1403.1,990.9L1406.3,991L1409.5,991.2L1412.7,991.4L1415.9,991.5L1419,991.7L1422.2,991.9L1425.3,992L1428.4,992.2L1431.6,992.3L1434.7,992.5L1437.8,992.6L1440.8,992.8L1443.9,993L1447,993.1L1450,993.2L1453,993.4L1456.1,993.5L1459.1,993.7L1462.1,993.8L1465.1,994L1468.2,994.1L1471.2,994.3L1474.2,994.4L1477.2,994.6L1480.3,994.7L1483.3,994.8L1486.3,995L1489.3,995.1L1492.4,995.3L1495.4,995.4L1498.4,995.5L1501.4,995.7L1504.4,995.8L1507.5,995.9L1510.5,996.1L1513.5,996.2L1516.5,996.3L1519.5,996.5L1522.6,996.6L1525.6,996.7L1528.6,996.9L1531.6,997L1534.6,997.1L1537.7,997.3L1540.7,997.4L1543.7,997.5L1546.7,997.7L1549.8,997.8L1552.8,997.9L1555.8,998L1558.8,998.2L1561.8,998.3L1564.9,998.4L1567.9,998.5L1570.9,998.7L1574,998.8L1577,998.9L1580,999.1L1583,999.2L1586.1,999.3L1589.1,999.4L1592.1,999.6L1595.2,999.7L1598.2,999.8L1601.2,999.9L1604.3,1000.1L1607.3,1000.2L1610.4,1000.3L1613.4,1000.4L1616.4,1000.5L1619.5,1000.7L1622.5,1000.8L1625.6,1000.9L1628.6,1001L1631.7,1001.2L1634.7,1001.3L1637.8,1001.4L1640.8,1001.5L1643.9,1001.7L1646.9,1001.8L1650,1001.9L1653,1002L1656,1002.1L1659.1,1002.3L1662.2,1002.4L1665.4,1002.5L1668.6,1002.6L1671.8,1002.8L1675.1,1002.9L1678.4,1003L1681.7,1003.1L1685,1003.3L1688.4,1003.4L1691.8,1003.5L1695.2,1003.7L1698.6,1003.8L1702,1003.9L1705.5,1004.1L1709,1004.2L1712.4,1004.3L1715.9,1004.4L1719.4,1004.6L1722.9,1004.7L1726.4,1004.8L1729.9,1005L1733.4,1005.1L1736.9,1005.2L1740.4,1005.4L1743.9,1005.5L1747.4,1005.6L1750.8,1005.7L1754.3,1005.9L1757.7,1006L1761.1,1006.1L1764.5,1006.2L1767.9,1006.4L1771.2,1006.5L1774.5,1006.6L1777.8,1006.7L1781.1,1006.8L1784.3,1007L1787.5,1007.1L1790.7,1007.2L1793.8,1007.3L1796.9,1007.4L1800,1007.5L1803,1007.6L1805.9,1007.7L1808.8,1007.9L1811.7,1008L1814.5,1008.1L1817.2,1008.2L1819.9,1008.3L1822.6,1008.4L1825.2,1008.4L1827.7,1008.5L1830.2,1008.6L1832.5,1008.7L1834.9,1008.8L1837.1,1008.9L1839.3,1009L1841.4,1009L1843.5,1009.1L1845.4,1009.2L1847.3,1009.3L1849.1,1009.3L1850.8,1009.4L1852.5,1009.4L1854,1009.5" stroke="#0000ff" stroke-width="9.5" fill="none" stroke-linecap="round" stroke-linejoin="round"/>
<ellipse cx="481.6" cy="215.2" rx="91.3" ry="104.8" fill="none" stroke="#ff0000" stroke-width="7.5"/>
<ellipse cx="570" cy="566.3" rx="51" ry="51.7" fill="none" stroke="#00ff00" stroke-width="9.5"/>
<ellipse cx="805" cy="820.2" rx="130.6" ry="195.8" fill="none" stroke="#4040ff" stroke-width="8"/>
</g>
<rect x="283" y="35.5" width="1571.6" height="1156.7" fill="none" stroke="#111" stroke-width="4.8" stroke-linejoin="round"/>
<g id="labels">
<text transform="translate(256.5,59.3) scale(0.95,1)" text-anchor="end" class="tl">100,000</text>
<text transform="translate(256.5,338.7) scale(0.95,1)" text-anchor="end" class="tl">10,000</text>
<text transform="translate(256.5,618) scale(0.95,1)" text-anchor="end" class="tl">1,000</text>
<text transform="translate(256.5,897.4) scale(0.95,1)" text-anchor="end" class="tl">100</text>
<text transform="translate(256.5,1176.7) scale(0.95,1)" text-anchor="end" class="tl">10</text>
<text transform="translate(294.6,1253.8) scale(0.95,1)" text-anchor="middle" class="tl">0</text>
<text transform="translate(814.6,1253.8) scale(0.95,1)" text-anchor="middle" class="tl">200</text>
<text transform="translate(1334.6,1253.8) scale(0.95,1)" text-anchor="middle" class="tl">400</text>
<text transform="translate(1854.6,1253.8) scale(0.95,1)" text-anchor="middle" class="tl">600</text>
<text x="1068" y="1345.2" text-anchor="middle" class="ti">Drain voltage (V)</text>
<text transform="translate(86,905) rotate(-90)" class="ti" style="font-size:57.5px">Capacitance (pF/cm<tspan dx="-2.5" dy="-31.5" style="font-size:38px">2</tspan><tspan dy="31.5">)</tspan></text>
<text x="571" y="394.5" class="an">C-UMOSFET</text>
<text x="571" y="464.6" class="an">epi = 3x10<tspan x="788" dy="-28" style="font-size:25px">15</tspan><tspan x="829" dy="28">cm</tspan><tspan x="894" dy="-29" style="font-size:25px">-3</tspan></text>
</g>
<g id="legend">
<path d="M944,366.2H1071" stroke="#ff0000" stroke-width="10" stroke-linecap="round"/>
<text x="1082" y="385" class="lg">Ciss</text>
<path d="M944,436.3H1071" stroke="#00ff00" stroke-width="10" stroke-linecap="round"/>
<text x="1082" y="455.2" class="lg">Coss</text>
<path d="M944,506.5H1071" stroke="#0000ff" stroke-width="10" stroke-linecap="round"/>
<text x="1082" y="525.3" class="lg">Crss</text>
<path d="M1217,367.2H1342" stroke="#ff0000" stroke-width="10" stroke-linecap="round"/>
<path d="M1217,438H1323" stroke="#ff0000" stroke-width="14.5" stroke-linecap="round" stroke-dasharray="0 26.25"/>
<path d="M1217,508.3H1251M1300,508.3H1333" stroke="#ff0000" stroke-width="10" stroke-linecap="round"/>
<path d="M1217,579H1246M1276,579H1279M1309,579H1313" stroke="#ff0000" stroke-width="10" stroke-linecap="round"/>
<text x="1355" y="386.8" class="lg">GND_CSL p-shield</text>
<text x="1355" y="457" class="lg">GND p-shield</text>
<text x="1355" y="527.5" class="lg">Without p-shield</text>
<text x="1355" y="597.3" class="lg">Floating p-shield</text>
</g>
</g>
</svg>
</body></html>
